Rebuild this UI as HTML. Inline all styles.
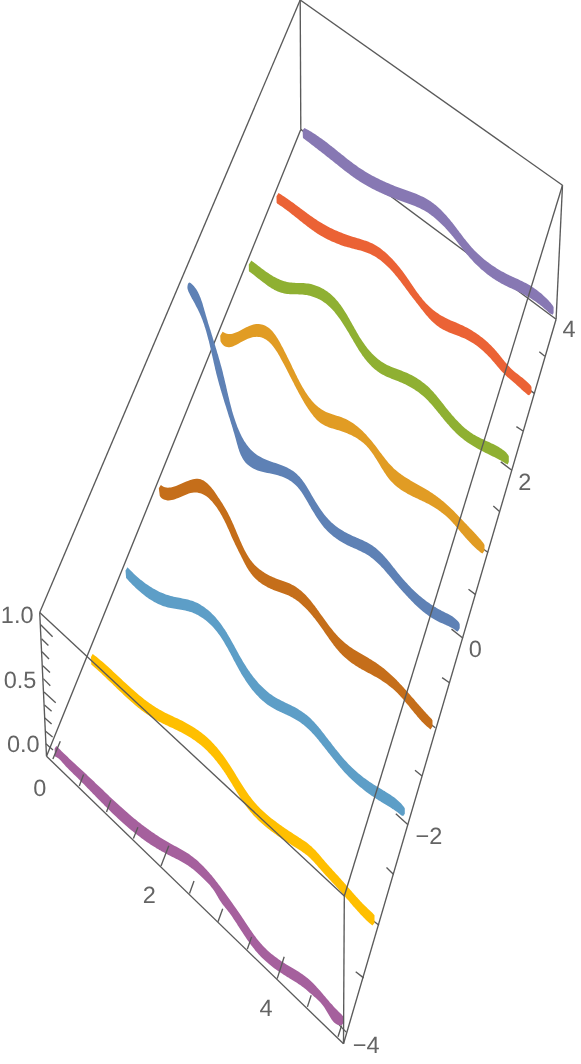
<!DOCTYPE html><html><head><meta charset="utf-8"><style>html,body{margin:0;padding:0;background:#fff}svg{display:block}</style></head><body><svg width="581" height="1064" viewBox="0 0 581 1064">
<rect width="581" height="1064" fill="#fff"/>
<g stroke-linecap="butt">
<line x1="46.5" y1="756.2" x2="300.8" y2="129.4" stroke="#5a5a5a" stroke-width="1.35"/>
<line x1="300.8" y1="129.4" x2="556.1" y2="319.2" stroke="#5a5a5a" stroke-width="1.35"/>
<line x1="300.8" y1="129.4" x2="300.2" y2="0.0" stroke="#5a5a5a" stroke-width="1.35"/>
<line x1="46.5" y1="756.2" x2="39.7" y2="612.4" stroke="#5a5a5a" stroke-width="1.35"/>
<line x1="556.1" y1="319.2" x2="562.5" y2="185.2" stroke="#5a5a5a" stroke-width="1.35"/>
<line x1="343.5" y1="1043.8" x2="556.1" y2="319.2" stroke="#5a5a5a" stroke-width="1.35"/>
<line x1="39.7" y1="612.4" x2="300.2" y2="0.0" stroke="#5a5a5a" stroke-width="1.35"/>
<line x1="300.2" y1="0.0" x2="562.5" y2="185.2" stroke="#5a5a5a" stroke-width="1.35"/>
<line x1="346.2" y1="1032.1" x2="334.1" y2="1019.6" stroke="#5a5a5a" stroke-width="1.35"/>
<line x1="363.6" y1="977.9" x2="355.7" y2="971.7" stroke="#5a5a5a" stroke-width="1.35"/>
<line x1="379.0" y1="925.2" x2="370.5" y2="918.7" stroke="#5a5a5a" stroke-width="1.35"/>
<line x1="393.6" y1="874.4" x2="386.5" y2="867.6" stroke="#5a5a5a" stroke-width="1.35"/>
<line x1="408.0" y1="824.7" x2="395.8" y2="813.7" stroke="#5a5a5a" stroke-width="1.35"/>
<line x1="422.0" y1="776.0" x2="415.0" y2="770.2" stroke="#5a5a5a" stroke-width="1.35"/>
<line x1="435.3" y1="727.8" x2="428.7" y2="722.8" stroke="#5a5a5a" stroke-width="1.35"/>
<line x1="449.5" y1="682.8" x2="442.1" y2="677.6" stroke="#5a5a5a" stroke-width="1.35"/>
<line x1="475.6" y1="594.6" x2="468.5" y2="589.2" stroke="#5a5a5a" stroke-width="1.35"/>
<line x1="463.0" y1="638.3" x2="451.5" y2="629.1" stroke="#5a5a5a" stroke-width="1.35"/>
<line x1="488.1" y1="552.5" x2="480.8" y2="547.3" stroke="#5a5a5a" stroke-width="1.35"/>
<line x1="499.5" y1="511.4" x2="493.3" y2="506.0" stroke="#5a5a5a" stroke-width="1.35"/>
<line x1="511.8" y1="470.2" x2="500.8" y2="461.9" stroke="#5a5a5a" stroke-width="1.35"/>
<line x1="523.0" y1="431.0" x2="516.4" y2="426.6" stroke="#5a5a5a" stroke-width="1.35"/>
<line x1="534.4" y1="393.4" x2="528.4" y2="389.1" stroke="#5a5a5a" stroke-width="1.35"/>
<line x1="544.8" y1="356.2" x2="539.3" y2="351.8" stroke="#5a5a5a" stroke-width="1.35"/>
<line x1="40.7" y1="624.8" x2="52.6" y2="636.7" stroke="#5a5a5a" stroke-width="1.35"/>
<line x1="41.5" y1="638.8" x2="48.4" y2="645.5" stroke="#5a5a5a" stroke-width="1.35"/>
<line x1="42.0" y1="651.7" x2="49.0" y2="659.0" stroke="#5a5a5a" stroke-width="1.35"/>
<line x1="42.8" y1="665.7" x2="50.0" y2="672.4" stroke="#5a5a5a" stroke-width="1.35"/>
<line x1="43.3" y1="678.6" x2="50.3" y2="685.7" stroke="#5a5a5a" stroke-width="1.35"/>
<line x1="44.0" y1="692.1" x2="55.7" y2="702.7" stroke="#5a5a5a" stroke-width="1.35"/>
<line x1="44.5" y1="705.0" x2="51.6" y2="711.2" stroke="#5a5a5a" stroke-width="1.35"/>
<line x1="44.8" y1="717.9" x2="51.6" y2="724.1" stroke="#5a5a5a" stroke-width="1.35"/>
<line x1="45.3" y1="730.9" x2="52.6" y2="737.1" stroke="#5a5a5a" stroke-width="1.35"/>
<line x1="45.9" y1="743.8" x2="53.0" y2="750.0" stroke="#5a5a5a" stroke-width="1.35"/>
</g>
<path d="M304.5,128.0 L305.8,128.7 L307.1,129.4 L308.4,130.1 L309.7,130.9 L311.0,131.6 L312.3,132.4 L313.5,133.2 L314.8,134.0 L316.0,134.8 L317.2,135.7 L318.5,136.5 L319.7,137.4 L320.9,138.2 L322.1,139.1 L323.3,140.0 L324.5,140.8 L325.7,141.7 L326.9,142.6 L328.0,143.5 L329.2,144.5 L330.4,145.4 L331.6,146.3 L332.7,147.2 L333.9,148.1 L335.0,149.1 L336.2,150.0 L337.4,151.0 L338.5,151.9 L339.7,152.8 L340.9,153.8 L342.0,154.7 L343.2,155.6 L344.4,156.6 L345.5,157.5 L346.7,158.4 L347.9,159.4 L349.1,160.3 L350.3,161.2 L351.5,162.1 L352.6,163.0 L353.9,163.9 L355.1,164.8 L356.3,165.6 L357.5,166.5 L358.7,167.4 L360.0,168.2 L361.2,169.0 L362.5,169.8 L363.7,170.6 L365.0,171.4 L366.3,172.2 L367.6,173.0 L368.9,173.7 L370.2,174.4 L371.5,175.2 L372.8,175.9 L374.1,176.6 L375.4,177.3 L376.8,178.0 L378.1,178.6 L379.4,179.3 L380.8,179.9 L382.1,180.6 L383.5,181.2 L384.9,181.8 L386.2,182.4 L387.6,183.0 L389.0,183.6 L390.4,184.2 L391.7,184.8 L393.1,185.3 L394.5,185.9 L395.9,186.4 L397.3,187.0 L398.7,187.5 L400.1,188.0 L401.5,188.5 L402.9,189.0 L404.3,189.5 L405.7,190.0 L407.1,190.5 L408.5,191.0 L409.9,191.5 L411.3,192.0 L412.6,192.5 L414.0,193.1 L415.4,193.6 L416.7,194.1 L418.1,194.7 L419.4,195.3 L420.8,195.9 L422.1,196.5 L423.4,197.1 L424.7,197.8 L426.0,198.5 L427.2,199.2 L428.5,200.0 L429.7,200.7 L430.9,201.6 L432.1,202.4 L433.3,203.3 L434.4,204.2 L435.6,205.1 L436.7,206.1 L437.8,207.0 L438.9,208.0 L440.0,209.1 L441.1,210.1 L442.2,211.2 L443.2,212.3 L444.3,213.4 L445.3,214.5 L446.3,215.6 L447.3,216.7 L448.3,217.9 L449.3,219.1 L450.3,220.2 L451.2,221.4 L452.2,222.6 L453.1,223.8 L454.1,225.0 L455.0,226.3 L456.0,227.5 L456.9,228.7 L457.8,229.9 L458.7,231.1 L459.6,232.4 L460.6,233.6 L461.5,234.8 L462.4,236.0 L463.3,237.2 L464.2,238.4 L465.2,239.6 L466.1,240.8 L467.1,242.0 L468.0,243.1 L469.0,244.3 L470.0,245.4 L470.9,246.6 L471.9,247.7 L473.0,248.8 L474.0,249.9 L475.0,250.9 L476.1,252.0 L477.1,253.0 L478.2,254.0 L479.3,255.0 L480.4,256.0 L481.5,257.0 L482.6,258.0 L483.7,258.9 L484.9,259.9 L486.0,260.8 L487.2,261.7 L488.4,262.6 L489.6,263.5 L490.7,264.3 L491.9,265.2 L493.2,266.0 L494.4,266.8 L495.6,267.6 L496.8,268.4 L498.1,269.2 L499.4,269.9 L500.6,270.7 L501.9,271.4 L503.2,272.1 L504.5,272.8 L505.8,273.5 L507.1,274.2 L508.4,274.8 L509.7,275.5 L511.0,276.1 L512.4,276.7 L513.7,277.3 L515.1,277.9 L516.4,278.5 L517.7,279.1 L519.1,279.8 L520.4,280.4 L521.8,281.0 L523.1,281.7 L524.5,282.4 L525.8,283.1 L527.1,283.8 L528.4,284.6 L529.8,285.3 L531.1,286.1 L532.3,287.0 L533.6,287.8 L534.9,288.7 L536.1,289.6 L537.4,290.5 L538.6,291.4 L539.8,292.4 L541.0,293.3 L542.1,294.3 L543.3,295.4 L544.4,296.4 L545.5,297.4 L546.6,298.5 L547.6,299.6 L548.6,300.6 L549.6,301.7 L550.6,302.8 L551.5,304.0 L552.4,305.1 L553.6,306.9 L553.6,313.0 L552.6,314.8 L551.4,314.1 L549.9,313.6 L549.0,312.7 L548.0,311.7 L546.9,310.8 L545.9,309.8 L544.8,308.9 L543.7,308.0 L542.6,307.1 L541.5,306.1 L540.3,305.2 L539.2,304.3 L538.0,303.4 L536.8,302.5 L535.5,301.6 L534.3,300.8 L533.0,299.9 L531.7,299.1 L530.5,298.3 L529.2,297.5 L527.9,296.7 L526.5,295.9 L525.2,295.2 L523.9,294.5 L522.5,293.8 L521.2,293.1 L519.9,292.4 L518.5,291.7 L517.2,291.1 L515.8,290.5 L514.4,289.8 L513.1,289.2 L511.7,288.6 L510.4,288.0 L509.1,287.4 L507.7,286.8 L506.4,286.1 L505.1,285.5 L503.8,284.8 L502.4,284.1 L501.1,283.4 L499.9,282.6 L498.6,281.9 L497.3,281.1 L496.1,280.4 L494.8,279.6 L493.6,278.7 L492.3,277.9 L491.1,277.1 L489.9,276.2 L488.7,275.3 L487.5,274.4 L486.3,273.5 L485.2,272.6 L484.0,271.6 L482.9,270.6 L481.7,269.7 L480.6,268.7 L479.5,267.6 L478.4,266.6 L477.3,265.6 L476.2,264.5 L475.1,263.4 L474.1,262.4 L473.0,261.3 L472.0,260.1 L471.0,259.0 L470.0,257.9 L469.0,256.7 L468.0,255.6 L467.0,254.4 L466.0,253.2 L465.1,252.1 L464.1,250.9 L463.2,249.7 L462.2,248.5 L461.3,247.3 L460.4,246.1 L459.4,244.9 L458.5,243.7 L457.6,242.5 L456.6,241.3 L455.7,240.1 L454.8,239.0 L453.8,237.8 L452.9,236.6 L451.9,235.5 L451.0,234.3 L450.0,233.2 L449.0,232.0 L448.0,230.9 L447.0,229.8 L446.0,228.7 L445.0,227.6 L444.0,226.5 L442.9,225.5 L441.9,224.4 L440.8,223.4 L439.8,222.4 L438.7,221.4 L437.6,220.4 L436.5,219.4 L435.4,218.4 L434.2,217.5 L433.1,216.6 L431.9,215.7 L430.7,214.8 L429.6,214.0 L428.4,213.1 L427.2,212.3 L425.9,211.6 L424.7,210.8 L423.4,210.1 L422.1,209.4 L420.8,208.7 L419.5,208.1 L418.2,207.5 L416.9,206.9 L415.5,206.3 L414.2,205.8 L412.8,205.2 L411.4,204.7 L410.1,204.2 L408.7,203.7 L407.3,203.2 L405.9,202.7 L404.5,202.2 L403.1,201.7 L401.7,201.2 L400.3,200.7 L398.9,200.2 L397.5,199.7 L396.1,199.2 L394.7,198.6 L393.3,198.1 L391.9,197.6 L390.5,197.0 L389.1,196.4 L387.7,195.9 L386.3,195.3 L384.9,194.7 L383.5,194.1 L382.2,193.5 L380.8,192.8 L379.4,192.2 L378.1,191.6 L376.7,190.9 L375.4,190.2 L374.0,189.5 L372.7,188.9 L371.4,188.2 L370.1,187.5 L368.7,186.7 L367.4,186.0 L366.1,185.3 L364.8,184.5 L363.5,183.7 L362.2,183.0 L361.0,182.2 L359.7,181.4 L358.4,180.5 L357.2,179.7 L355.9,178.9 L354.7,178.0 L353.4,177.2 L352.2,176.3 L351.0,175.4 L349.8,174.5 L348.6,173.6 L347.4,172.7 L346.2,171.8 L345.0,170.9 L343.8,170.0 L342.6,169.0 L341.4,168.1 L340.3,167.2 L339.1,166.2 L337.9,165.3 L336.8,164.3 L335.6,163.4 L334.4,162.5 L333.2,161.5 L332.1,160.6 L330.9,159.7 L329.7,158.7 L328.6,157.8 L327.4,156.9 L326.2,156.0 L325.0,155.0 L323.9,154.1 L322.7,153.2 L321.5,152.3 L320.3,151.3 L319.1,150.4 L317.9,149.5 L316.8,148.6 L315.6,147.7 L314.4,146.7 L313.2,145.8 L312.0,144.9 L310.8,144.0 L309.6,143.0 L308.4,142.1 L307.2,141.2 L305.9,140.2 L304.7,139.3 L303.5,138.4 L302.9,137.5 L302.6,130.3Z" fill="#8778b3"/>
<path d="M278.5,193.0 L279.8,193.8 L281.1,194.6 L282.4,195.4 L283.7,196.3 L284.9,197.1 L286.2,197.9 L287.4,198.8 L288.7,199.7 L289.9,200.5 L291.1,201.4 L292.3,202.3 L293.5,203.1 L294.7,204.0 L295.9,204.9 L297.1,205.8 L298.3,206.7 L299.5,207.6 L300.6,208.4 L301.8,209.3 L303.0,210.2 L304.2,211.1 L305.4,212.0 L306.5,212.8 L307.7,213.7 L308.9,214.6 L310.1,215.4 L311.3,216.3 L312.5,217.1 L313.7,218.0 L314.9,218.8 L316.2,219.6 L317.4,220.4 L318.6,221.2 L319.9,222.0 L321.2,222.8 L322.5,223.6 L323.7,224.3 L325.1,225.1 L326.4,225.8 L327.7,226.5 L329.1,227.2 L330.4,227.9 L331.8,228.6 L333.2,229.2 L334.6,229.9 L336.0,230.5 L337.4,231.1 L338.8,231.7 L340.2,232.3 L341.7,232.8 L343.1,233.4 L344.6,233.9 L346.0,234.5 L347.4,235.0 L348.9,235.5 L350.3,236.0 L351.8,236.4 L353.2,236.9 L354.6,237.3 L356.1,237.8 L357.5,238.2 L358.9,238.6 L360.3,239.0 L361.7,239.5 L363.1,239.9 L364.5,240.4 L365.9,240.8 L367.2,241.3 L368.6,241.8 L369.9,242.4 L371.2,243.0 L372.6,243.6 L373.8,244.3 L375.1,245.0 L376.4,245.7 L377.6,246.5 L378.8,247.3 L380.0,248.1 L381.2,249.0 L382.4,249.9 L383.5,250.9 L384.7,251.8 L385.8,252.8 L386.9,253.8 L388.0,254.8 L389.1,255.9 L390.2,256.9 L391.2,258.0 L392.3,259.1 L393.3,260.2 L394.3,261.3 L395.3,262.4 L396.3,263.5 L397.3,264.7 L398.3,265.9 L399.2,267.0 L400.2,268.2 L401.1,269.4 L402.0,270.6 L402.9,271.8 L403.8,273.0 L404.7,274.3 L405.6,275.5 L406.5,276.7 L407.3,278.0 L408.2,279.2 L409.1,280.5 L409.9,281.7 L410.7,283.0 L411.6,284.2 L412.4,285.5 L413.3,286.7 L414.1,288.0 L415.0,289.2 L415.8,290.4 L416.7,291.7 L417.6,292.9 L418.5,294.1 L419.3,295.3 L420.2,296.5 L421.2,297.6 L422.1,298.8 L423.0,299.9 L424.0,301.0 L424.9,302.1 L425.9,303.2 L427.0,304.3 L428.0,305.3 L429.0,306.3 L430.1,307.3 L431.2,308.3 L432.3,309.2 L433.5,310.2 L434.6,311.1 L435.8,311.9 L437.0,312.8 L438.2,313.6 L439.4,314.4 L440.6,315.2 L441.9,315.9 L443.1,316.6 L444.4,317.3 L445.7,318.0 L446.9,318.6 L448.2,319.2 L449.5,319.8 L450.8,320.4 L452.2,321.0 L453.5,321.5 L454.8,322.1 L456.1,322.6 L457.5,323.2 L458.8,323.8 L460.1,324.4 L461.5,325.0 L462.8,325.6 L464.1,326.2 L465.4,326.9 L466.8,327.5 L468.1,328.3 L469.4,329.0 L470.7,329.8 L472.0,330.5 L473.3,331.4 L474.6,332.2 L475.9,333.1 L477.2,333.9 L478.4,334.8 L479.7,335.7 L480.9,336.7 L482.1,337.6 L483.3,338.6 L484.5,339.6 L485.7,340.6 L486.8,341.6 L488.0,342.6 L489.1,343.7 L490.2,344.7 L491.3,345.8 L492.4,346.9 L493.4,348.0 L494.4,349.1 L495.4,350.2 L496.4,351.3 L497.3,352.4 L498.3,353.5 L499.2,354.7 L500.1,355.8 L501.0,356.9 L501.9,358.0 L502.8,359.2 L503.7,360.3 L504.6,361.4 L505.5,362.5 L506.5,363.6 L507.4,364.7 L508.4,365.8 L509.4,366.8 L510.5,367.9 L511.5,368.9 L512.6,369.9 L513.7,370.9 L514.9,371.9 L516.1,372.9 L517.3,373.8 L518.5,374.8 L519.7,375.8 L520.9,376.7 L522.1,377.6 L523.3,378.6 L524.4,379.5 L525.6,380.5 L526.7,381.5 L527.8,382.5 L528.8,383.4 L529.8,384.5 L530.7,385.5 L531.5,386.9 L531.5,392.4 L529.2,395.2 L527.9,395.0 L526.9,394.1 L525.9,393.2 L524.9,392.3 L523.8,391.4 L522.7,390.4 L521.5,389.4 L520.4,388.3 L519.2,387.3 L518.1,386.2 L516.9,385.2 L515.7,384.1 L514.5,383.1 L513.3,382.1 L512.2,381.1 L511.0,380.1 L509.8,379.1 L508.7,378.1 L507.6,377.2 L506.6,376.2 L505.6,375.2 L504.5,374.2 L503.6,373.3 L502.6,372.2 L501.6,371.2 L500.7,370.2 L499.8,369.2 L498.8,368.1 L497.9,367.0 L497.0,365.9 L496.1,364.8 L495.1,363.7 L494.2,362.6 L493.2,361.5 L492.3,360.4 L491.3,359.3 L490.3,358.1 L489.2,357.0 L488.2,355.9 L487.1,354.8 L486.0,353.7 L484.9,352.7 L483.7,351.6 L482.6,350.6 L481.4,349.5 L480.2,348.5 L479.0,347.5 L477.8,346.6 L476.5,345.6 L475.3,344.7 L474.0,343.8 L472.7,343.0 L471.4,342.2 L470.1,341.4 L468.8,340.7 L467.5,340.0 L466.1,339.3 L464.8,338.6 L463.4,338.0 L462.0,337.4 L460.7,336.9 L459.3,336.3 L457.9,335.8 L456.6,335.3 L455.2,334.8 L453.8,334.3 L452.5,333.8 L451.2,333.3 L449.8,332.7 L448.5,332.2 L447.2,331.6 L445.9,331.0 L444.6,330.3 L443.3,329.7 L442.0,329.0 L440.8,328.2 L439.5,327.4 L438.3,326.6 L437.1,325.7 L435.9,324.8 L434.8,323.8 L433.6,322.8 L432.5,321.8 L431.4,320.7 L430.3,319.6 L429.2,318.5 L428.2,317.3 L427.2,316.1 L426.1,314.9 L425.2,313.7 L424.2,312.5 L423.2,311.3 L422.3,310.1 L421.3,308.9 L420.4,307.7 L419.5,306.5 L418.5,305.3 L417.6,304.1 L416.7,303.0 L415.8,301.8 L414.9,300.6 L414.0,299.5 L413.1,298.3 L412.2,297.2 L411.4,296.0 L410.5,294.9 L409.6,293.7 L408.7,292.5 L407.9,291.3 L407.0,290.2 L406.1,289.0 L405.2,287.8 L404.4,286.6 L403.5,285.4 L402.6,284.2 L401.7,283.0 L400.8,281.8 L399.9,280.6 L398.9,279.4 L398.0,278.2 L397.1,277.0 L396.1,275.9 L395.1,274.7 L394.2,273.6 L393.2,272.5 L392.2,271.3 L391.2,270.2 L390.1,269.1 L389.1,268.1 L388.0,267.0 L387.0,266.0 L385.9,264.9 L384.8,263.9 L383.7,262.9 L382.5,262.0 L381.4,261.0 L380.2,260.1 L379.0,259.3 L377.8,258.4 L376.6,257.6 L375.4,256.8 L374.1,256.1 L372.9,255.4 L371.6,254.7 L370.3,254.0 L369.0,253.5 L367.6,252.9 L366.3,252.4 L364.9,251.9 L363.5,251.5 L362.1,251.1 L360.7,250.6 L359.3,250.3 L357.9,249.9 L356.5,249.5 L355.0,249.2 L353.6,248.8 L352.1,248.4 L350.7,248.0 L349.2,247.6 L347.7,247.2 L346.3,246.8 L344.8,246.4 L343.4,245.9 L341.9,245.4 L340.4,244.9 L339.0,244.3 L337.5,243.8 L336.1,243.2 L334.7,242.6 L333.3,242.0 L331.8,241.4 L330.4,240.8 L329.0,240.1 L327.7,239.4 L326.3,238.7 L324.9,238.0 L323.6,237.3 L322.3,236.5 L320.9,235.7 L319.6,235.0 L318.4,234.2 L317.1,233.4 L315.8,232.5 L314.6,231.7 L313.4,230.8 L312.1,230.0 L310.9,229.1 L309.7,228.2 L308.5,227.3 L307.3,226.4 L306.2,225.5 L305.0,224.6 L303.8,223.7 L302.6,222.8 L301.5,221.8 L300.3,220.9 L299.2,220.0 L298.0,219.0 L296.8,218.1 L295.7,217.2 L294.5,216.2 L293.3,215.3 L292.1,214.4 L291.0,213.4 L289.8,212.5 L288.6,211.6 L287.4,210.7 L286.2,209.8 L285.0,208.9 L283.7,208.0 L282.5,207.1 L281.3,206.2 L280.0,205.4 L278.7,204.5 L277.4,203.7 L276.6,202.8 L276.5,196.2Z" fill="#eb6235"/>
<path d="M251.4,260.6 L252.5,261.4 L253.7,262.3 L254.9,263.2 L256.0,264.1 L257.2,265.0 L258.4,265.9 L259.6,266.8 L260.8,267.8 L262.0,268.7 L263.2,269.6 L264.5,270.5 L265.7,271.4 L266.9,272.3 L268.2,273.1 L269.5,274.0 L270.7,274.8 L272.0,275.6 L273.3,276.4 L274.6,277.1 L276.0,277.8 L277.3,278.5 L278.7,279.1 L280.0,279.7 L281.4,280.3 L282.8,280.8 L284.2,281.2 L285.6,281.6 L287.0,282.0 L288.5,282.2 L290.0,282.5 L291.4,282.6 L292.9,282.8 L294.4,282.8 L295.9,282.9 L297.4,282.9 L299.0,283.0 L300.5,283.0 L302.0,283.1 L303.5,283.1 L305.0,283.2 L306.6,283.4 L308.1,283.6 L309.6,283.8 L311.0,284.1 L312.5,284.5 L314.0,284.9 L315.4,285.4 L316.8,285.9 L318.3,286.4 L319.6,287.1 L321.0,287.7 L322.3,288.4 L323.6,289.1 L324.9,289.9 L326.1,290.7 L327.4,291.6 L328.5,292.4 L329.7,293.3 L330.8,294.3 L331.9,295.2 L332.9,296.2 L334.0,297.3 L335.0,298.3 L336.0,299.4 L336.9,300.5 L337.9,301.6 L338.8,302.7 L339.7,303.9 L340.6,305.1 L341.4,306.3 L342.3,307.5 L343.1,308.7 L343.9,310.0 L344.7,311.2 L345.5,312.5 L346.3,313.8 L347.1,315.1 L347.9,316.4 L348.6,317.7 L349.4,319.0 L350.1,320.4 L350.9,321.7 L351.6,323.0 L352.4,324.4 L353.1,325.7 L353.9,327.0 L354.6,328.4 L355.4,329.7 L356.1,331.1 L356.9,332.4 L357.7,333.7 L358.4,335.1 L359.2,336.4 L360.0,337.7 L360.9,339.0 L361.7,340.3 L362.5,341.5 L363.4,342.8 L364.3,344.1 L365.1,345.3 L366.1,346.5 L367.0,347.7 L367.9,348.9 L368.9,350.1 L369.9,351.2 L370.9,352.3 L371.9,353.4 L373.0,354.5 L374.0,355.6 L375.1,356.6 L376.2,357.6 L377.3,358.5 L378.5,359.4 L379.7,360.3 L380.8,361.2 L382.0,362.0 L383.3,362.8 L384.5,363.5 L385.8,364.2 L387.0,364.9 L388.3,365.5 L389.6,366.1 L391.0,366.7 L392.3,367.2 L393.6,367.7 L395.0,368.3 L396.4,368.8 L397.7,369.3 L399.1,369.8 L400.5,370.3 L401.9,370.8 L403.2,371.4 L404.6,371.9 L406.0,372.5 L407.4,373.1 L408.7,373.7 L410.1,374.4 L411.5,375.1 L412.8,375.8 L414.1,376.6 L415.4,377.3 L416.7,378.1 L418.0,378.9 L419.3,379.7 L420.5,380.6 L421.7,381.5 L422.9,382.4 L424.1,383.3 L425.3,384.2 L426.4,385.2 L427.5,386.1 L428.5,387.1 L429.6,388.1 L430.6,389.2 L431.6,390.2 L432.6,391.3 L433.6,392.3 L434.5,393.4 L435.5,394.5 L436.4,395.6 L437.3,396.7 L438.3,397.9 L439.2,399.0 L440.1,400.2 L441.0,401.3 L441.9,402.5 L442.8,403.6 L443.8,404.8 L444.7,406.0 L445.6,407.2 L446.6,408.4 L447.5,409.5 L448.5,410.7 L449.5,411.9 L450.5,413.1 L451.4,414.3 L452.4,415.4 L453.5,416.6 L454.5,417.7 L455.5,418.9 L456.5,420.0 L457.6,421.1 L458.7,422.2 L459.7,423.3 L460.8,424.3 L461.9,425.4 L463.0,426.4 L464.1,427.4 L465.2,428.4 L466.4,429.3 L467.5,430.2 L468.7,431.1 L469.9,432.0 L471.0,432.8 L472.2,433.6 L473.4,434.4 L474.7,435.1 L475.9,435.8 L477.1,436.5 L478.4,437.1 L479.7,437.8 L481.0,438.4 L482.3,439.0 L483.6,439.6 L484.9,440.2 L486.2,440.9 L487.6,441.5 L489.0,442.1 L490.3,442.8 L491.7,443.4 L493.2,444.1 L494.6,444.8 L496.0,445.6 L497.4,446.3 L498.8,447.1 L500.1,448.0 L501.5,448.8 L502.7,449.7 L503.9,450.6 L505.1,451.6 L506.2,452.6 L507.1,453.7 L508.0,454.8 L508.8,456.2 L508.8,462.1 L507.6,464.5 L506.3,463.8 L505.4,463.6 L504.4,462.8 L503.4,462.1 L502.2,461.4 L501.0,460.6 L499.7,459.9 L498.4,459.2 L497.0,458.5 L495.6,457.8 L494.2,457.1 L492.8,456.4 L491.3,455.7 L489.9,455.0 L488.5,454.3 L487.1,453.6 L485.7,452.9 L484.4,452.2 L483.0,451.5 L481.7,450.8 L480.4,450.1 L479.1,449.4 L477.8,448.7 L476.5,448.0 L475.3,447.3 L474.0,446.6 L472.8,445.8 L471.6,445.1 L470.4,444.3 L469.2,443.5 L468.0,442.7 L466.8,441.9 L465.6,441.0 L464.4,440.2 L463.3,439.3 L462.1,438.3 L461.0,437.4 L459.9,436.4 L458.7,435.4 L457.6,434.4 L456.5,433.4 L455.5,432.4 L454.4,431.3 L453.3,430.3 L452.3,429.2 L451.2,428.0 L450.2,426.9 L449.2,425.8 L448.2,424.6 L447.1,423.5 L446.2,422.3 L445.2,421.2 L444.2,420.0 L443.2,418.8 L442.3,417.6 L441.3,416.5 L440.4,415.3 L439.5,414.1 L438.5,413.0 L437.6,411.8 L436.7,410.7 L435.8,409.6 L434.8,408.4 L433.9,407.3 L433.0,406.2 L432.0,405.1 L431.1,404.0 L430.1,402.9 L429.1,401.9 L428.2,400.8 L427.1,399.8 L426.1,398.8 L425.1,397.8 L424.0,396.8 L422.9,395.8 L421.8,394.9 L420.6,393.9 L419.4,393.0 L418.2,392.1 L417.0,391.2 L415.7,390.4 L414.5,389.5 L413.2,388.7 L411.9,387.9 L410.6,387.2 L409.2,386.4 L407.9,385.7 L406.5,385.0 L405.2,384.3 L403.8,383.7 L402.4,383.1 L401.1,382.5 L399.7,381.9 L398.3,381.3 L396.9,380.8 L395.5,380.3 L394.2,379.7 L392.8,379.2 L391.4,378.7 L390.1,378.1 L388.7,377.6 L387.4,377.0 L386.1,376.4 L384.8,375.8 L383.5,375.1 L382.2,374.4 L381.0,373.7 L379.7,372.9 L378.5,372.1 L377.3,371.2 L376.2,370.3 L375.0,369.4 L373.9,368.4 L372.8,367.4 L371.7,366.4 L370.6,365.3 L369.6,364.2 L368.5,363.1 L367.5,361.9 L366.5,360.8 L365.5,359.6 L364.6,358.4 L363.7,357.1 L362.7,355.9 L361.8,354.6 L361.0,353.3 L360.1,352.0 L359.2,350.7 L358.4,349.4 L357.6,348.1 L356.8,346.8 L356.0,345.5 L355.2,344.1 L354.4,342.8 L353.6,341.5 L352.9,340.1 L352.1,338.8 L351.3,337.5 L350.6,336.2 L349.8,334.9 L349.1,333.6 L348.3,332.3 L347.5,331.0 L346.7,329.7 L346.0,328.4 L345.2,327.2 L344.4,325.9 L343.6,324.7 L342.8,323.4 L342.0,322.2 L341.2,321.0 L340.4,319.8 L339.5,318.6 L338.7,317.4 L337.8,316.2 L336.9,315.0 L336.0,313.9 L335.1,312.7 L334.2,311.6 L333.2,310.5 L332.3,309.4 L331.3,308.4 L330.3,307.4 L329.2,306.4 L328.1,305.4 L327.0,304.5 L325.9,303.6 L324.7,302.7 L323.5,301.9 L322.3,301.1 L321.0,300.3 L319.7,299.6 L318.4,298.9 L317.0,298.3 L315.6,297.7 L314.2,297.2 L312.8,296.7 L311.3,296.2 L309.9,295.8 L308.4,295.4 L306.9,295.1 L305.4,294.9 L303.8,294.7 L302.3,294.5 L300.8,294.4 L299.2,294.4 L297.7,294.3 L296.1,294.3 L294.6,294.3 L293.1,294.3 L291.6,294.2 L290.0,294.2 L288.5,294.1 L287.1,293.9 L285.6,293.7 L284.1,293.5 L282.7,293.1 L281.3,292.7 L279.9,292.3 L278.5,291.7 L277.1,291.2 L275.8,290.5 L274.4,289.9 L273.1,289.1 L271.8,288.4 L270.5,287.6 L269.2,286.7 L268.0,285.9 L266.7,285.0 L265.5,284.1 L264.2,283.1 L263.0,282.2 L261.8,281.2 L260.5,280.3 L259.3,279.3 L258.1,278.4 L256.9,277.4 L255.7,276.5 L254.5,275.5 L253.3,274.6 L252.2,273.7 L251.0,272.8 L249.8,272.0 L248.9,271.2 L248.8,264.6Z" fill="#8fb032"/>
<path d="M222.6,331.8 L224.0,332.6 L225.5,333.3 L226.9,333.7 L228.3,333.9 L229.7,334.0 L231.1,333.9 L232.5,333.7 L233.9,333.3 L235.2,332.8 L236.6,332.3 L238.0,331.7 L239.4,331.0 L240.8,330.3 L242.1,329.5 L243.5,328.8 L244.9,328.0 L246.3,327.3 L247.7,326.7 L249.1,326.0 L250.6,325.5 L252.0,325.0 L253.4,324.6 L254.8,324.3 L256.2,324.1 L257.6,324.0 L258.9,324.0 L260.3,324.2 L261.6,324.4 L262.9,324.8 L264.2,325.2 L265.4,325.8 L266.6,326.5 L267.8,327.2 L269.0,328.1 L270.1,329.0 L271.1,330.0 L272.2,331.1 L273.2,332.3 L274.1,333.5 L275.1,334.8 L276.0,336.1 L276.9,337.4 L277.8,338.8 L278.6,340.2 L279.4,341.6 L280.2,343.0 L281.0,344.4 L281.7,345.9 L282.5,347.3 L283.2,348.6 L283.9,350.0 L284.6,351.4 L285.3,352.7 L285.9,354.0 L286.6,355.3 L287.2,356.7 L287.9,357.9 L288.5,359.2 L289.1,360.5 L289.8,361.8 L290.4,363.1 L291.0,364.3 L291.6,365.6 L292.2,366.9 L292.8,368.2 L293.5,369.5 L294.1,370.7 L294.7,372.0 L295.4,373.4 L296.0,374.7 L296.7,376.0 L297.3,377.4 L298.0,378.7 L298.7,380.1 L299.4,381.4 L300.1,382.8 L300.9,384.2 L301.6,385.5 L302.4,386.9 L303.2,388.2 L304.0,389.6 L304.8,390.9 L305.6,392.3 L306.5,393.6 L307.3,394.8 L308.2,396.1 L309.2,397.4 L310.1,398.6 L311.1,399.8 L312.0,401.0 L313.0,402.1 L314.1,403.2 L315.1,404.3 L316.2,405.3 L317.4,406.3 L318.5,407.2 L319.7,408.1 L320.9,409.0 L322.1,409.8 L323.4,410.6 L324.7,411.3 L326.0,411.9 L327.4,412.5 L328.8,413.1 L330.2,413.6 L331.6,414.1 L333.0,414.5 L334.5,415.0 L335.9,415.4 L337.4,415.9 L338.8,416.3 L340.2,416.8 L341.7,417.3 L343.1,417.9 L344.5,418.5 L345.8,419.1 L347.2,419.8 L348.5,420.5 L349.8,421.2 L351.0,422.0 L352.3,422.8 L353.5,423.6 L354.8,424.5 L356.0,425.4 L357.1,426.3 L358.3,427.3 L359.4,428.3 L360.6,429.3 L361.7,430.3 L362.8,431.3 L363.9,432.4 L364.9,433.5 L366.0,434.6 L367.0,435.7 L368.0,436.9 L369.0,438.0 L370.0,439.2 L371.0,440.3 L372.0,441.5 L373.0,442.7 L373.9,443.9 L374.8,445.1 L375.8,446.3 L376.7,447.5 L377.6,448.7 L378.5,449.9 L379.4,451.2 L380.3,452.4 L381.2,453.6 L382.1,454.8 L383.0,455.9 L383.9,457.1 L384.8,458.3 L385.7,459.5 L386.6,460.6 L387.6,461.7 L388.5,462.9 L389.5,464.0 L390.5,465.0 L391.5,466.1 L392.5,467.1 L393.5,468.2 L394.6,469.2 L395.7,470.1 L396.8,471.1 L398.0,472.0 L399.2,472.9 L400.4,473.8 L401.6,474.7 L402.8,475.6 L404.1,476.4 L405.3,477.2 L406.6,478.0 L407.9,478.8 L409.2,479.6 L410.5,480.4 L411.8,481.2 L413.1,481.9 L414.5,482.7 L415.8,483.5 L417.1,484.2 L418.5,485.0 L419.8,485.7 L421.1,486.5 L422.5,487.2 L423.8,488.0 L425.1,488.8 L426.4,489.6 L427.7,490.3 L429.0,491.1 L430.3,491.9 L431.6,492.8 L432.8,493.6 L434.0,494.4 L435.3,495.3 L436.5,496.2 L437.7,497.0 L438.8,497.9 L440.0,498.8 L441.1,499.8 L442.3,500.7 L443.4,501.6 L444.5,502.6 L445.6,503.6 L446.7,504.5 L447.8,505.5 L448.9,506.5 L450.0,507.5 L451.0,508.6 L452.1,509.6 L453.2,510.6 L454.2,511.6 L455.3,512.7 L456.3,513.7 L457.3,514.8 L458.4,515.9 L459.4,516.9 L460.4,518.0 L461.5,519.1 L462.5,520.2 L463.5,521.3 L464.6,522.4 L465.6,523.5 L466.7,524.6 L467.7,525.7 L468.8,526.8 L469.8,527.9 L470.9,529.0 L471.9,530.1 L473.0,531.2 L474.0,532.3 L475.1,533.4 L476.1,534.5 L477.1,535.7 L478.1,536.8 L479.1,537.9 L480.1,539.0 L481.0,540.1 L481.9,541.2 L482.8,542.3 L483.7,543.4 L484.5,544.9 L484.5,550.4 L482.5,553.5 L481.0,552.7 L480.0,551.9 L479.0,551.1 L478.0,550.2 L477.0,549.4 L476.0,548.4 L474.9,547.5 L473.9,546.5 L472.8,545.5 L471.8,544.4 L470.7,543.3 L469.7,542.2 L468.6,541.1 L467.6,540.0 L466.5,538.8 L465.5,537.7 L464.5,536.5 L463.4,535.3 L462.4,534.1 L461.4,532.9 L460.4,531.7 L459.4,530.5 L458.4,529.3 L457.4,528.1 L456.4,526.9 L455.4,525.7 L454.4,524.6 L453.3,523.4 L452.3,522.3 L451.3,521.2 L450.2,520.1 L449.2,519.1 L448.1,518.1 L447.1,517.1 L446.0,516.1 L444.9,515.1 L443.8,514.2 L442.6,513.3 L441.5,512.4 L440.4,511.5 L439.2,510.7 L438.0,509.8 L436.8,509.0 L435.6,508.2 L434.4,507.4 L433.2,506.7 L431.9,506.0 L430.6,505.2 L429.4,504.5 L428.1,503.8 L426.7,503.2 L425.4,502.5 L424.1,501.8 L422.7,501.2 L421.4,500.6 L420.0,499.9 L418.6,499.3 L417.3,498.6 L415.9,498.0 L414.5,497.3 L413.1,496.7 L411.8,496.0 L410.4,495.3 L409.0,494.6 L407.7,493.9 L406.4,493.1 L405.1,492.3 L403.7,491.5 L402.5,490.7 L401.2,489.9 L399.9,489.0 L398.7,488.1 L397.5,487.2 L396.3,486.2 L395.1,485.2 L394.0,484.2 L392.9,483.1 L391.8,482.0 L390.8,480.9 L389.7,479.7 L388.7,478.5 L387.8,477.2 L386.8,475.9 L385.9,474.6 L385.0,473.3 L384.1,472.0 L383.3,470.6 L382.4,469.3 L381.6,467.9 L380.7,466.5 L379.9,465.1 L379.1,463.7 L378.2,462.3 L377.4,460.9 L376.5,459.6 L375.7,458.2 L374.8,456.9 L374.0,455.5 L373.1,454.2 L372.2,452.9 L371.3,451.7 L370.3,450.4 L369.4,449.2 L368.4,448.1 L367.4,446.9 L366.4,445.8 L365.3,444.8 L364.2,443.8 L363.2,442.8 L362.0,441.9 L360.9,441.0 L359.7,440.2 L358.6,439.4 L357.4,438.6 L356.1,437.8 L354.9,437.1 L353.6,436.4 L352.4,435.8 L351.1,435.1 L349.7,434.5 L348.4,433.9 L347.1,433.3 L345.7,432.8 L344.3,432.2 L342.9,431.7 L341.5,431.2 L340.1,430.8 L338.7,430.3 L337.2,429.9 L335.8,429.5 L334.3,429.0 L332.8,428.6 L331.4,428.2 L329.9,427.7 L328.5,427.2 L327.1,426.6 L325.7,426.0 L324.3,425.3 L323.0,424.6 L321.7,423.8 L320.5,422.9 L319.3,422.0 L318.1,421.0 L316.9,419.9 L315.8,418.8 L314.7,417.6 L313.7,416.4 L312.7,415.1 L311.7,413.8 L310.7,412.5 L309.7,411.1 L308.8,409.8 L307.9,408.4 L307.0,407.0 L306.1,405.7 L305.2,404.3 L304.4,402.9 L303.6,401.5 L302.7,400.1 L301.9,398.6 L301.1,397.2 L300.4,395.8 L299.6,394.4 L298.8,393.0 L298.1,391.7 L297.4,390.3 L296.6,388.9 L295.9,387.6 L295.2,386.2 L294.5,384.9 L293.9,383.6 L293.2,382.3 L292.5,381.0 L291.9,379.7 L291.2,378.4 L290.6,377.2 L289.9,376.0 L289.3,374.7 L288.7,373.5 L288.0,372.3 L287.4,371.0 L286.8,369.8 L286.1,368.5 L285.5,367.3 L284.8,366.1 L284.2,364.8 L283.5,363.5 L282.8,362.3 L282.1,361.0 L281.4,359.7 L280.7,358.4 L280.0,357.1 L279.3,355.8 L278.5,354.5 L277.7,353.1 L276.9,351.8 L276.0,350.5 L275.2,349.2 L274.3,347.9 L273.4,346.7 L272.4,345.5 L271.4,344.3 L270.4,343.2 L269.4,342.2 L268.3,341.3 L267.2,340.4 L266.0,339.6 L264.8,338.9 L263.6,338.2 L262.3,337.7 L261.0,337.3 L259.6,337.0 L258.2,336.9 L256.8,336.8 L255.3,336.9 L253.9,337.0 L252.4,337.3 L250.9,337.7 L249.4,338.2 L247.8,338.8 L246.3,339.4 L244.8,340.2 L243.3,340.9 L241.8,341.7 L240.3,342.6 L238.8,343.4 L237.4,344.2 L236.0,344.9 L234.7,345.6 L233.3,346.2 L232.0,346.7 L230.7,347.0 L229.5,347.2 L228.3,347.3 L227.1,347.1 L225.9,346.8 L224.7,346.3 L223.6,345.5 L222.6,344.4 L221.5,343.0 L220.5,341.3 L220.2,335.8Z" fill="#e19c24"/>
<path d="M189.7,282.5 L190.9,283.3 L192.0,284.3 L193.0,285.3 L194.0,286.3 L194.9,287.5 L195.7,288.6 L196.6,289.8 L197.3,291.1 L198.0,292.3 L198.7,293.7 L199.3,295.0 L199.9,296.4 L200.5,297.8 L201.0,299.2 L201.5,300.7 L202.0,302.1 L202.5,303.6 L202.9,305.1 L203.3,306.6 L203.8,308.1 L204.2,309.6 L204.6,311.1 L205.1,312.6 L205.5,314.1 L205.9,315.6 L206.4,317.0 L206.8,318.5 L207.3,320.0 L207.7,321.4 L208.1,322.9 L208.6,324.4 L209.0,325.8 L209.5,327.3 L209.9,328.7 L210.4,330.1 L210.8,331.6 L211.3,333.0 L211.7,334.5 L212.2,335.9 L212.6,337.3 L213.0,338.8 L213.5,340.2 L213.9,341.6 L214.4,343.1 L214.8,344.5 L215.3,346.0 L215.7,347.4 L216.1,348.8 L216.6,350.3 L217.0,351.7 L217.4,353.2 L217.9,354.6 L218.3,356.1 L218.7,357.5 L219.1,359.0 L219.6,360.4 L220.0,361.9 L220.4,363.4 L220.8,364.9 L221.2,366.3 L221.6,367.8 L222.0,369.3 L222.4,370.8 L222.8,372.3 L223.1,373.8 L223.5,375.4 L223.9,376.9 L224.3,378.4 L224.6,380.0 L225.0,381.5 L225.3,383.0 L225.7,384.6 L226.1,386.1 L226.4,387.7 L226.8,389.3 L227.1,390.8 L227.5,392.4 L227.9,393.9 L228.2,395.5 L228.6,397.0 L229.0,398.6 L229.3,400.1 L229.7,401.7 L230.1,403.2 L230.5,404.8 L230.9,406.3 L231.3,407.8 L231.7,409.3 L232.1,410.9 L232.6,412.4 L233.0,413.9 L233.5,415.4 L233.9,416.8 L234.4,418.3 L234.9,419.8 L235.4,421.2 L235.9,422.7 L236.4,424.1 L236.9,425.5 L237.4,426.9 L238.0,428.3 L238.6,429.7 L239.2,431.1 L239.8,432.4 L240.4,433.8 L241.0,435.1 L241.7,436.4 L242.4,437.7 L243.1,438.9 L243.8,440.2 L244.5,441.4 L245.3,442.6 L246.1,443.8 L246.9,445.0 L247.8,446.1 L248.7,447.2 L249.6,448.3 L250.6,449.4 L251.7,450.5 L252.8,451.5 L253.9,452.5 L255.1,453.5 L256.4,454.4 L257.8,455.4 L259.2,456.3 L260.7,457.1 L262.3,458.0 L263.9,458.8 L265.7,459.6 L267.5,460.3 L269.4,461.1 L271.4,461.8 L273.5,462.5 L275.5,463.1 L277.6,463.8 L279.6,464.5 L281.6,465.2 L283.5,466.0 L285.3,466.8 L287.1,467.6 L288.7,468.4 L290.2,469.3 L291.7,470.2 L293.1,471.1 L294.4,472.1 L295.6,473.1 L296.8,474.1 L297.9,475.2 L299.0,476.2 L300.0,477.3 L300.9,478.5 L301.9,479.6 L302.7,480.8 L303.6,481.9 L304.4,483.1 L305.2,484.3 L306.0,485.5 L306.8,486.8 L307.5,488.0 L308.3,489.3 L309.0,490.6 L309.8,491.8 L310.5,493.1 L311.3,494.4 L312.0,495.7 L312.8,497.0 L313.5,498.3 L314.3,499.6 L315.1,500.9 L315.9,502.2 L316.7,503.5 L317.5,504.8 L318.3,506.1 L319.1,507.3 L319.9,508.6 L320.8,509.8 L321.7,511.1 L322.6,512.3 L323.5,513.5 L324.4,514.7 L325.3,515.8 L326.3,517.0 L327.3,518.1 L328.3,519.2 L329.3,520.3 L330.3,521.3 L331.4,522.4 L332.5,523.3 L333.6,524.3 L334.8,525.2 L335.9,526.2 L337.1,527.0 L338.3,527.9 L339.5,528.7 L340.8,529.6 L342.0,530.3 L343.3,531.1 L344.6,531.9 L345.9,532.6 L347.2,533.3 L348.6,534.0 L349.9,534.6 L351.3,535.3 L352.6,535.9 L354.0,536.5 L355.4,537.1 L356.8,537.7 L358.2,538.3 L359.6,538.9 L360.9,539.5 L362.3,540.1 L363.7,540.7 L365.0,541.4 L366.4,542.0 L367.7,542.7 L369.0,543.4 L370.2,544.2 L371.5,545.0 L372.7,545.8 L373.9,546.7 L375.1,547.6 L376.3,548.5 L377.4,549.4 L378.5,550.4 L379.6,551.4 L380.7,552.5 L381.7,553.5 L382.8,554.6 L383.8,555.7 L384.8,556.8 L385.8,557.9 L386.8,559.1 L387.8,560.2 L388.8,561.4 L389.7,562.6 L390.7,563.8 L391.6,565.0 L392.6,566.2 L393.5,567.4 L394.5,568.6 L395.4,569.8 L396.4,571.0 L397.3,572.2 L398.3,573.4 L399.2,574.5 L400.2,575.7 L401.2,576.9 L402.1,578.0 L403.1,579.2 L404.1,580.3 L405.1,581.4 L406.1,582.5 L407.1,583.6 L408.1,584.7 L409.1,585.8 L410.1,586.8 L411.2,587.9 L412.2,588.9 L413.3,590.0 L414.3,591.0 L415.4,592.0 L416.5,593.0 L417.6,594.0 L418.7,594.9 L419.8,595.9 L420.9,596.8 L422.0,597.8 L423.2,598.7 L424.3,599.6 L425.5,600.5 L426.7,601.4 L427.9,602.2 L429.1,603.1 L430.3,603.9 L431.5,604.7 L432.8,605.6 L434.0,606.4 L435.3,607.1 L436.6,607.9 L437.9,608.7 L439.2,609.4 L440.5,610.1 L441.9,610.9 L443.2,611.6 L444.6,612.3 L445.9,612.9 L447.3,613.6 L448.7,614.3 L450.0,615.1 L451.3,615.8 L452.6,616.6 L453.8,617.5 L455.0,618.4 L456.1,619.4 L457.2,620.4 L458.2,621.5 L459.1,622.7 L459.7,624.2 L459.7,628.3 L457.9,631.4 L456.6,631.3 L455.6,630.4 L454.5,629.6 L453.4,628.8 L452.2,628.1 L450.9,627.4 L449.6,626.7 L448.3,626.1 L446.9,625.5 L445.5,624.8 L444.2,624.2 L442.8,623.6 L441.4,623.0 L440.0,622.4 L438.6,621.7 L437.2,621.0 L435.9,620.3 L434.6,619.6 L433.3,618.8 L432.0,618.0 L430.7,617.2 L429.5,616.4 L428.2,615.5 L427.0,614.6 L425.8,613.7 L424.6,612.8 L423.5,611.9 L422.3,610.9 L421.2,610.0 L420.0,609.0 L418.9,608.0 L417.8,607.0 L416.7,606.0 L415.6,604.9 L414.5,603.9 L413.4,602.8 L412.4,601.8 L411.3,600.7 L410.3,599.6 L409.2,598.5 L408.2,597.4 L407.2,596.3 L406.1,595.2 L405.1,594.1 L404.1,593.0 L403.1,591.9 L402.1,590.8 L401.1,589.7 L400.1,588.6 L399.1,587.4 L398.2,586.3 L397.2,585.2 L396.2,584.0 L395.2,582.9 L394.3,581.8 L393.3,580.6 L392.4,579.4 L391.4,578.3 L390.4,577.1 L389.5,576.0 L388.5,574.8 L387.5,573.7 L386.5,572.5 L385.6,571.4 L384.6,570.3 L383.6,569.1 L382.6,568.0 L381.5,566.9 L380.5,565.8 L379.5,564.8 L378.4,563.7 L377.3,562.7 L376.2,561.7 L375.1,560.7 L374.0,559.7 L372.9,558.8 L371.7,557.9 L370.5,557.0 L369.3,556.1 L368.1,555.3 L366.8,554.5 L365.6,553.8 L364.3,553.1 L362.9,552.4 L361.6,551.7 L360.2,551.0 L358.9,550.4 L357.5,549.8 L356.1,549.1 L354.7,548.5 L353.4,547.9 L352.0,547.3 L350.6,546.7 L349.2,546.0 L347.9,545.4 L346.5,544.7 L345.2,544.0 L343.8,543.3 L342.5,542.5 L341.2,541.8 L339.9,541.0 L338.7,540.2 L337.4,539.3 L336.2,538.5 L335.0,537.6 L333.8,536.7 L332.6,535.8 L331.5,534.8 L330.3,533.8 L329.2,532.8 L328.1,531.8 L327.1,530.7 L326.0,529.6 L325.0,528.5 L324.0,527.4 L323.1,526.2 L322.1,525.0 L321.2,523.8 L320.3,522.6 L319.4,521.3 L318.5,520.1 L317.7,518.8 L316.8,517.5 L316.0,516.2 L315.2,514.9 L314.4,513.6 L313.6,512.3 L312.8,511.0 L312.0,509.7 L311.2,508.4 L310.5,507.0 L309.7,505.7 L308.9,504.4 L308.2,503.1 L307.4,501.8 L306.7,500.5 L305.9,499.2 L305.2,498.0 L304.4,496.7 L303.7,495.5 L302.9,494.2 L302.1,493.0 L301.3,491.8 L300.5,490.7 L299.6,489.5 L298.7,488.4 L297.8,487.3 L296.8,486.2 L295.8,485.2 L294.7,484.2 L293.5,483.2 L292.3,482.2 L291.1,481.3 L289.7,480.4 L288.3,479.5 L286.8,478.7 L285.2,477.9 L283.6,477.2 L281.8,476.5 L279.9,475.9 L277.9,475.3 L275.9,474.8 L273.8,474.3 L271.6,473.8 L269.4,473.3 L267.3,472.9 L265.2,472.4 L263.2,472.0 L261.2,471.5 L259.4,471.0 L257.6,470.4 L254.9,469.3 L253.2,468.4 L251.6,467.5 L250.1,466.6 L248.8,465.6 L247.5,464.6 L246.4,463.5 L245.4,462.4 L244.5,461.2 L243.6,460.1 L242.8,458.8 L242.1,457.6 L241.5,456.3 L240.8,455.0 L240.3,453.7 L239.7,452.3 L239.2,451.0 L238.8,449.6 L238.3,448.2 L237.9,446.8 L237.5,445.3 L237.1,443.9 L236.7,442.5 L236.3,441.0 L235.9,439.6 L235.5,438.1 L235.1,436.7 L234.7,435.3 L234.3,433.8 L233.9,432.4 L233.4,430.9 L233.0,429.5 L232.6,428.0 L232.1,426.6 L231.7,425.1 L231.2,423.7 L230.8,422.2 L230.3,420.7 L229.9,419.3 L229.4,417.8 L228.9,416.4 L228.5,414.9 L228.0,413.4 L227.6,412.0 L227.1,410.5 L226.6,409.0 L226.2,407.6 L225.7,406.1 L225.2,404.6 L224.8,403.2 L224.3,401.7 L223.9,400.2 L223.4,398.7 L223.0,397.2 L222.5,395.7 L222.1,394.3 L221.6,392.8 L221.2,391.3 L220.7,389.8 L220.3,388.3 L219.9,386.8 L219.4,385.3 L219.0,383.8 L218.6,382.3 L218.2,380.8 L217.8,379.3 L217.4,377.8 L217.0,376.3 L216.6,374.7 L216.2,373.2 L215.9,371.7 L215.5,370.2 L215.1,368.7 L214.8,367.1 L214.4,365.6 L214.1,364.1 L213.7,362.6 L213.4,361.0 L213.1,359.5 L212.7,358.0 L212.4,356.5 L212.0,354.9 L211.7,353.4 L211.3,351.9 L211.0,350.4 L210.7,348.9 L210.3,347.4 L209.9,345.8 L209.6,344.3 L209.2,342.8 L208.9,341.3 L208.5,339.9 L208.1,338.4 L207.7,336.9 L207.3,335.4 L206.9,333.9 L206.5,332.5 L206.1,331.0 L205.6,329.6 L205.2,328.1 L204.7,326.7 L204.3,325.2 L203.8,323.8 L203.3,322.4 L202.8,321.0 L202.3,319.6 L201.7,318.2 L201.2,316.8 L200.6,315.5 L200.0,314.1 L199.4,312.8 L198.8,311.4 L198.1,310.1 L197.5,308.8 L196.8,307.5 L196.1,306.2 L195.5,304.9 L194.8,303.6 L194.1,302.3 L193.4,301.0 L192.7,299.7 L191.9,298.4 L191.2,297.0 L190.5,295.7 L189.9,294.4 L189.2,293.0 L188.5,291.7 L188.0,290.3 L187.6,288.9 L187.4,287.5 L187.5,286.1 L187.8,284.6 L188.5,283.1Z" fill="#5e81b5"/>
<path d="M160.9,485.1 L162.2,486.1 L163.5,486.8 L164.9,487.3 L166.4,487.6 L167.9,487.7 L169.4,487.6 L171.0,487.4 L172.6,487.0 L174.3,486.5 L176.0,485.9 L177.7,485.3 L179.4,484.6 L181.1,483.8 L182.8,483.0 L184.5,482.3 L186.2,481.6 L187.9,480.9 L189.6,480.2 L191.3,479.7 L193.0,479.3 L194.6,478.9 L196.2,478.8 L197.7,478.8 L199.3,478.9 L200.7,479.3 L202.2,479.9 L203.6,480.6 L204.9,481.4 L206.2,482.4 L207.5,483.5 L208.7,484.7 L209.9,485.9 L211.1,487.3 L212.2,488.7 L213.3,490.1 L214.4,491.6 L215.4,493.1 L216.4,494.5 L217.4,495.9 L218.3,497.4 L219.3,498.7 L220.1,500.1 L221.0,501.5 L221.9,502.8 L222.7,504.1 L223.5,505.4 L224.3,506.7 L225.0,508.0 L225.8,509.3 L226.5,510.6 L227.2,511.8 L227.9,513.1 L228.6,514.4 L229.2,515.7 L229.9,517.0 L230.5,518.3 L231.1,519.7 L231.8,521.0 L232.4,522.4 L233.0,523.7 L233.6,525.1 L234.2,526.5 L234.8,527.9 L235.4,529.2 L235.9,530.6 L236.5,532.0 L237.1,533.4 L237.7,534.8 L238.3,536.2 L238.9,537.6 L239.5,539.0 L240.1,540.4 L240.7,541.8 L241.3,543.1 L241.9,544.5 L242.5,545.8 L243.2,547.2 L243.8,548.5 L244.5,549.9 L245.2,551.2 L245.9,552.5 L246.6,553.7 L247.3,555.0 L248.1,556.2 L248.8,557.5 L249.7,558.7 L250.5,559.9 L251.4,561.0 L252.3,562.2 L253.2,563.3 L254.2,564.4 L255.2,565.4 L256.3,566.4 L257.4,567.5 L258.6,568.4 L259.7,569.4 L261.0,570.3 L262.2,571.2 L263.5,572.0 L264.8,572.9 L266.1,573.7 L267.5,574.4 L268.8,575.2 L270.2,575.9 L271.6,576.6 L273.0,577.2 L274.5,577.8 L275.9,578.4 L277.3,579.0 L278.7,579.5 L280.1,580.0 L281.6,580.5 L283.0,581.0 L284.4,581.5 L285.8,582.0 L287.1,582.5 L288.5,583.1 L289.8,583.6 L291.1,584.3 L292.4,584.9 L293.7,585.6 L294.9,586.3 L296.1,587.1 L297.3,587.9 L298.5,588.8 L299.6,589.7 L300.8,590.6 L301.9,591.5 L302.9,592.5 L304.0,593.5 L305.1,594.6 L306.1,595.6 L307.1,596.7 L308.1,597.8 L309.1,599.0 L310.1,600.1 L311.1,601.3 L312.0,602.5 L313.0,603.7 L313.9,604.9 L314.9,606.1 L315.8,607.4 L316.7,608.6 L317.6,609.9 L318.5,611.1 L319.4,612.4 L320.3,613.7 L321.2,615.0 L322.2,616.2 L323.1,617.5 L324.0,618.8 L324.9,620.0 L325.8,621.3 L326.7,622.5 L327.6,623.8 L328.5,625.0 L329.4,626.2 L330.4,627.4 L331.3,628.6 L332.3,629.8 L333.2,631.0 L334.2,632.2 L335.2,633.3 L336.2,634.5 L337.2,635.6 L338.2,636.7 L339.3,637.7 L340.3,638.8 L341.4,639.8 L342.5,640.8 L343.6,641.8 L344.7,642.8 L345.9,643.7 L347.0,644.6 L348.2,645.5 L349.4,646.4 L350.6,647.2 L351.8,648.1 L353.1,648.9 L354.3,649.7 L355.6,650.5 L356.9,651.3 L358.1,652.0 L359.4,652.8 L360.7,653.6 L362.0,654.3 L363.3,655.1 L364.6,655.8 L365.9,656.6 L367.2,657.3 L368.5,658.1 L369.8,658.9 L371.0,659.6 L372.3,660.4 L373.6,661.2 L374.8,662.0 L376.1,662.8 L377.3,663.7 L378.5,664.5 L379.7,665.4 L380.9,666.3 L382.1,667.2 L383.3,668.1 L384.5,669.0 L385.6,670.0 L386.7,670.9 L387.9,671.9 L389.0,672.9 L390.1,673.9 L391.2,674.9 L392.3,675.9 L393.4,677.0 L394.5,678.0 L395.5,679.1 L396.6,680.1 L397.6,681.2 L398.7,682.3 L399.7,683.4 L400.7,684.5 L401.8,685.6 L402.8,686.7 L403.8,687.8 L404.8,688.9 L405.8,690.0 L406.8,691.2 L407.8,692.3 L408.8,693.4 L409.8,694.6 L410.8,695.7 L411.8,696.9 L412.8,698.0 L413.8,699.1 L414.8,700.3 L415.7,701.4 L416.7,702.6 L417.7,703.7 L418.7,704.8 L419.7,706.0 L420.7,707.1 L421.7,708.2 L422.7,709.3 L423.7,710.4 L424.6,711.5 L425.6,712.6 L426.6,713.7 L427.7,714.8 L428.7,715.9 L429.7,717.0 L430.7,718.0 L431.7,719.1 L432.5,720.5 L432.5,726.4 L430.5,729.5 L429.1,728.2 L428.0,727.3 L426.9,726.4 L425.9,725.4 L424.8,724.5 L423.8,723.5 L422.8,722.4 L421.7,721.4 L420.7,720.3 L419.7,719.2 L418.7,718.1 L417.7,716.9 L416.8,715.8 L415.8,714.6 L414.8,713.4 L413.8,712.3 L412.9,711.1 L411.9,709.9 L410.9,708.7 L409.9,707.5 L409.0,706.3 L408.0,705.1 L407.0,703.9 L406.0,702.7 L405.0,701.5 L404.1,700.3 L403.1,699.2 L402.1,698.0 L401.0,696.9 L400.0,695.8 L399.0,694.7 L397.9,693.6 L396.9,692.6 L395.8,691.6 L394.8,690.6 L393.7,689.6 L392.6,688.6 L391.5,687.7 L390.3,686.8 L389.2,685.9 L388.1,685.0 L386.9,684.1 L385.8,683.3 L384.6,682.5 L383.4,681.7 L382.2,680.9 L381.0,680.1 L379.8,679.3 L378.6,678.6 L377.3,677.8 L376.1,677.1 L374.8,676.4 L373.5,675.7 L372.2,675.0 L371.0,674.3 L369.7,673.6 L368.3,672.9 L367.0,672.2 L365.7,671.5 L364.4,670.8 L363.1,670.1 L361.8,669.4 L360.5,668.6 L359.2,667.9 L357.9,667.1 L356.6,666.3 L355.3,665.5 L354.1,664.6 L352.8,663.7 L351.6,662.9 L350.4,661.9 L349.1,661.0 L347.9,660.1 L346.8,659.1 L345.6,658.1 L344.4,657.0 L343.3,656.0 L342.2,654.9 L341.1,653.8 L340.0,652.7 L339.0,651.5 L337.9,650.3 L336.9,649.1 L335.9,647.9 L334.9,646.6 L333.9,645.4 L333.0,644.1 L332.0,642.8 L331.1,641.5 L330.2,640.2 L329.2,638.9 L328.3,637.6 L327.4,636.3 L326.5,635.0 L325.6,633.7 L324.7,632.4 L323.8,631.1 L322.9,629.8 L322.0,628.5 L321.1,627.2 L320.2,626.0 L319.3,624.7 L318.4,623.5 L317.5,622.2 L316.5,621.0 L315.6,619.8 L314.7,618.6 L313.7,617.4 L312.8,616.2 L311.8,615.1 L310.9,613.9 L309.9,612.8 L308.9,611.7 L307.9,610.6 L306.9,609.5 L305.9,608.4 L304.9,607.4 L303.8,606.4 L302.7,605.4 L301.7,604.4 L300.6,603.5 L299.5,602.5 L298.4,601.6 L297.2,600.8 L296.1,599.9 L294.9,599.1 L293.7,598.4 L292.5,597.6 L291.2,596.9 L290.0,596.2 L288.7,595.6 L287.4,595.0 L286.0,594.4 L284.7,593.9 L283.3,593.4 L281.9,592.9 L280.5,592.4 L279.1,591.9 L277.7,591.4 L276.3,590.9 L274.8,590.4 L273.4,589.9 L272.0,589.3 L270.6,588.7 L269.2,588.1 L267.8,587.4 L266.4,586.6 L265.0,585.8 L263.7,585.0 L262.3,584.2 L261.0,583.3 L259.8,582.3 L258.5,581.4 L257.3,580.3 L256.1,579.3 L255.0,578.2 L253.9,577.0 L252.9,575.9 L251.8,574.6 L250.9,573.4 L250.0,572.1 L249.1,570.9 L248.2,569.6 L247.4,568.2 L246.6,566.9 L245.9,565.5 L245.1,564.2 L244.4,562.8 L243.7,561.5 L243.0,560.1 L242.4,558.8 L241.7,557.4 L241.0,556.1 L240.4,554.8 L239.7,553.5 L239.1,552.2 L238.4,550.9 L237.8,549.6 L237.1,548.3 L236.5,547.0 L235.9,545.7 L235.2,544.4 L234.6,543.1 L234.0,541.8 L233.4,540.5 L232.8,539.2 L232.1,537.8 L231.5,536.5 L230.9,535.1 L230.4,533.7 L229.8,532.3 L229.2,531.0 L228.6,529.6 L227.9,528.2 L227.3,526.8 L226.7,525.4 L226.1,524.1 L225.4,522.7 L224.8,521.4 L224.1,520.0 L223.4,518.7 L222.7,517.4 L222.0,516.0 L221.2,514.7 L220.5,513.4 L219.7,512.1 L218.8,510.8 L218.0,509.4 L217.1,508.1 L216.2,506.8 L215.2,505.5 L214.2,504.2 L213.2,502.9 L212.1,501.6 L211.0,500.4 L209.8,499.2 L208.6,498.0 L207.4,497.0 L206.0,496.0 L204.7,495.2 L203.3,494.4 L201.8,493.8 L200.3,493.3 L198.8,492.9 L197.2,492.6 L195.6,492.5 L194.0,492.5 L192.3,492.7 L190.6,493.1 L188.8,493.6 L187.1,494.3 L185.3,495.0 L183.5,495.7 L181.8,496.5 L180.0,497.2 L178.3,498.0 L176.6,498.6 L175.0,499.2 L173.3,499.7 L171.8,500.1 L170.2,500.3 L168.7,500.4 L167.3,500.4 L165.9,500.1 L164.6,499.8 L163.3,499.2 L162.0,498.4 L160.9,497.4 L159.8,496.1 L158.8,488.2Z" fill="#c56e1a"/>
<path d="M127.6,567.3 L128.6,568.4 L129.6,569.4 L130.6,570.5 L131.7,571.6 L132.7,572.6 L133.8,573.7 L134.9,574.7 L136.0,575.7 L137.1,576.7 L138.3,577.7 L139.4,578.7 L140.6,579.7 L141.8,580.6 L143.0,581.6 L144.2,582.5 L145.4,583.4 L146.6,584.3 L147.9,585.1 L149.2,586.0 L150.4,586.8 L151.7,587.6 L153.0,588.4 L154.3,589.1 L155.6,589.8 L157.0,590.5 L158.3,591.2 L159.6,591.9 L161.0,592.5 L162.4,593.1 L163.7,593.6 L165.1,594.2 L166.5,594.7 L167.9,595.1 L169.3,595.6 L170.7,596.0 L172.2,596.3 L173.6,596.7 L175.0,597.0 L176.4,597.3 L177.9,597.6 L179.3,597.8 L180.8,598.1 L182.2,598.4 L183.6,598.7 L185.1,599.0 L186.5,599.3 L187.9,599.6 L189.3,600.0 L190.7,600.4 L192.1,600.8 L193.5,601.3 L194.9,601.9 L196.2,602.5 L197.6,603.1 L198.9,603.8 L200.2,604.6 L201.5,605.4 L202.8,606.2 L204.1,607.0 L205.3,607.9 L206.5,608.9 L207.7,609.8 L208.9,610.8 L210.0,611.8 L211.1,612.8 L212.2,613.9 L213.3,615.0 L214.3,616.0 L215.3,617.1 L216.3,618.2 L217.2,619.4 L218.2,620.5 L219.1,621.7 L220.0,622.8 L220.9,624.0 L221.8,625.2 L222.6,626.4 L223.4,627.7 L224.3,628.9 L225.1,630.1 L225.9,631.4 L226.7,632.6 L227.4,633.9 L228.2,635.2 L228.9,636.5 L229.7,637.8 L230.4,639.1 L231.2,640.4 L231.9,641.7 L232.6,643.0 L233.3,644.3 L234.1,645.6 L234.8,646.9 L235.5,648.2 L236.2,649.6 L237.0,650.9 L237.7,652.2 L238.4,653.5 L239.1,654.9 L239.9,656.2 L240.6,657.5 L241.4,658.8 L242.1,660.1 L242.9,661.4 L243.7,662.7 L244.5,664.0 L245.3,665.3 L246.1,666.6 L246.9,667.9 L247.7,669.1 L248.6,670.4 L249.5,671.6 L250.3,672.9 L251.2,674.1 L252.1,675.3 L253.0,676.5 L253.9,677.7 L254.9,678.8 L255.8,680.0 L256.8,681.1 L257.7,682.3 L258.7,683.4 L259.7,684.5 L260.8,685.5 L261.8,686.6 L262.9,687.6 L263.9,688.6 L265.0,689.6 L266.1,690.6 L267.2,691.5 L268.4,692.5 L269.5,693.4 L270.7,694.2 L271.9,695.1 L273.1,695.9 L274.3,696.7 L275.5,697.5 L276.8,698.2 L278.1,698.9 L279.4,699.6 L280.7,700.3 L282.0,701.0 L283.3,701.6 L284.6,702.2 L286.0,702.9 L287.3,703.5 L288.7,704.2 L290.0,704.8 L291.4,705.5 L292.7,706.2 L294.0,706.8 L295.4,707.6 L296.7,708.3 L298.0,709.1 L299.3,709.9 L300.6,710.7 L301.8,711.5 L303.1,712.4 L304.3,713.3 L305.5,714.2 L306.7,715.1 L307.8,716.1 L309.0,717.1 L310.1,718.1 L311.2,719.1 L312.2,720.2 L313.3,721.3 L314.3,722.3 L315.3,723.4 L316.3,724.6 L317.3,725.7 L318.3,726.8 L319.2,728.0 L320.2,729.1 L321.1,730.3 L322.0,731.5 L323.0,732.7 L323.9,733.8 L324.8,735.0 L325.7,736.2 L326.6,737.4 L327.5,738.6 L328.4,739.8 L329.3,741.0 L330.3,742.1 L331.2,743.3 L332.1,744.5 L333.0,745.7 L333.9,746.8 L334.8,748.0 L335.7,749.2 L336.7,750.3 L337.6,751.5 L338.5,752.6 L339.5,753.8 L340.4,754.9 L341.3,756.0 L342.3,757.2 L343.2,758.3 L344.2,759.4 L345.2,760.5 L346.2,761.6 L347.1,762.6 L348.1,763.7 L349.1,764.7 L350.2,765.8 L351.2,766.8 L352.2,767.8 L353.3,768.8 L354.4,769.8 L355.5,770.8 L356.6,771.8 L357.7,772.7 L358.8,773.7 L359.9,774.6 L361.1,775.5 L362.3,776.5 L363.4,777.4 L364.6,778.2 L365.8,779.1 L367.0,780.0 L368.2,780.8 L369.4,781.7 L370.7,782.5 L371.9,783.3 L373.2,784.2 L374.4,785.0 L375.7,785.8 L376.9,786.5 L378.2,787.3 L379.5,788.1 L380.7,788.8 L382.0,789.6 L383.3,790.4 L384.6,791.1 L385.8,791.9 L387.1,792.7 L388.3,793.5 L389.6,794.3 L390.8,795.1 L392.0,795.9 L393.2,796.8 L394.4,797.6 L395.6,798.5 L396.7,799.5 L397.8,800.5 L398.9,801.5 L400.0,802.5 L401.1,803.6 L402.1,804.7 L403.1,805.9 L404.0,807.1 L404.8,808.5 L404.8,813.7 L403.2,816.1 L401.5,815.5 L400.5,814.7 L399.4,813.8 L398.3,812.9 L397.2,812.1 L396.0,811.3 L394.9,810.5 L393.7,809.6 L392.5,808.9 L391.3,808.1 L390.1,807.3 L388.9,806.5 L387.6,805.8 L386.4,805.0 L385.1,804.2 L383.8,803.5 L382.6,802.7 L381.3,801.9 L380.0,801.1 L378.8,800.4 L377.5,799.6 L376.2,798.8 L375.0,798.0 L373.7,797.1 L372.5,796.3 L371.2,795.4 L370.0,794.5 L368.8,793.7 L367.5,792.8 L366.3,791.9 L365.1,790.9 L363.9,790.0 L362.7,789.1 L361.6,788.1 L360.4,787.2 L359.2,786.2 L358.1,785.3 L356.9,784.3 L355.8,783.3 L354.7,782.3 L353.6,781.3 L352.5,780.3 L351.4,779.3 L350.4,778.2 L349.3,777.2 L348.3,776.2 L347.2,775.1 L346.2,774.0 L345.2,772.9 L344.2,771.9 L343.2,770.8 L342.3,769.7 L341.3,768.5 L340.3,767.4 L339.4,766.3 L338.4,765.2 L337.5,764.0 L336.6,762.9 L335.6,761.7 L334.7,760.6 L333.8,759.4 L332.8,758.3 L331.9,757.1 L331.0,756.0 L330.1,754.8 L329.1,753.6 L328.2,752.5 L327.3,751.3 L326.4,750.1 L325.5,748.9 L324.6,747.8 L323.6,746.6 L322.7,745.4 L321.8,744.3 L320.9,743.1 L319.9,741.9 L319.0,740.8 L318.1,739.6 L317.1,738.5 L316.2,737.3 L315.2,736.2 L314.2,735.1 L313.2,734.0 L312.2,732.9 L311.2,731.8 L310.1,730.8 L309.1,729.7 L308.0,728.7 L306.9,727.7 L305.8,726.7 L304.6,725.8 L303.5,724.8 L302.3,723.9 L301.1,723.0 L299.8,722.1 L298.6,721.3 L297.3,720.5 L296.0,719.7 L294.7,718.9 L293.4,718.2 L292.0,717.5 L290.7,716.8 L289.3,716.1 L288.0,715.5 L286.6,714.8 L285.3,714.2 L283.9,713.6 L282.6,712.9 L281.2,712.3 L279.9,711.7 L278.5,711.0 L277.2,710.4 L275.9,709.7 L274.6,709.0 L273.3,708.3 L272.0,707.6 L270.8,706.8 L269.6,706.0 L268.4,705.2 L267.2,704.4 L266.0,703.5 L264.8,702.6 L263.7,701.6 L262.6,700.7 L261.5,699.7 L260.4,698.7 L259.3,697.7 L258.3,696.6 L257.3,695.5 L256.2,694.4 L255.2,693.3 L254.3,692.2 L253.3,691.0 L252.3,689.9 L251.4,688.7 L250.5,687.5 L249.6,686.2 L248.7,685.0 L247.8,683.8 L246.9,682.5 L246.0,681.2 L245.2,679.9 L244.4,678.6 L243.5,677.3 L242.7,676.0 L241.9,674.7 L241.1,673.4 L240.4,672.0 L239.6,670.7 L238.8,669.3 L238.1,668.0 L237.3,666.6 L236.6,665.3 L235.9,663.9 L235.2,662.6 L234.4,661.2 L233.7,659.9 L233.0,658.5 L232.3,657.1 L231.6,655.8 L230.9,654.4 L230.2,653.1 L229.4,651.8 L228.7,650.4 L228.0,649.1 L227.3,647.8 L226.5,646.5 L225.8,645.2 L225.0,643.9 L224.3,642.6 L223.5,641.3 L222.7,640.1 L221.9,638.8 L221.1,637.6 L220.3,636.3 L219.4,635.1 L218.6,633.9 L217.7,632.8 L216.8,631.6 L215.9,630.5 L214.9,629.3 L214.0,628.2 L213.0,627.1 L212.0,626.1 L211.0,625.0 L209.9,624.0 L208.8,623.0 L207.7,622.0 L206.6,621.0 L205.4,620.1 L204.2,619.2 L203.0,618.3 L201.7,617.5 L200.5,616.7 L199.2,615.9 L197.9,615.1 L196.5,614.5 L195.2,613.8 L193.8,613.2 L192.4,612.6 L191.0,612.1 L189.6,611.7 L188.2,611.3 L186.8,610.9 L185.3,610.6 L183.9,610.3 L182.4,610.0 L181.0,609.7 L179.5,609.5 L178.0,609.3 L176.6,609.1 L175.1,608.8 L173.6,608.6 L172.2,608.3 L170.7,608.1 L169.3,607.8 L167.9,607.4 L166.4,607.1 L165.0,606.6 L163.6,606.2 L162.2,605.7 L160.8,605.1 L159.5,604.6 L158.1,603.9 L156.8,603.3 L155.4,602.6 L154.1,601.9 L152.8,601.1 L151.5,600.3 L150.2,599.5 L148.9,598.7 L147.7,597.8 L146.4,596.9 L145.2,596.0 L144.0,595.0 L142.7,594.1 L141.5,593.1 L140.4,592.1 L139.2,591.0 L138.0,590.0 L136.9,589.0 L135.7,587.9 L134.6,586.8 L133.5,585.7 L132.4,584.7 L131.3,583.6 L130.3,582.5 L129.2,581.4 L128.2,580.2 L127.1,579.1 L126.1,578.0 L125.5,570.5Z" fill="#5d9ec7"/>
<path d="M92.6,653.9 L93.8,654.8 L94.9,655.7 L96.1,656.6 L97.3,657.5 L98.4,658.5 L99.6,659.4 L100.7,660.4 L101.8,661.3 L103.0,662.3 L104.1,663.3 L105.2,664.3 L106.3,665.3 L107.5,666.3 L108.6,667.3 L109.7,668.3 L110.8,669.3 L111.9,670.3 L113.0,671.4 L114.1,672.4 L115.2,673.4 L116.3,674.4 L117.4,675.5 L118.5,676.5 L119.6,677.6 L120.7,678.6 L121.8,679.6 L122.9,680.7 L124.0,681.7 L125.2,682.7 L126.3,683.7 L127.4,684.8 L128.5,685.8 L129.6,686.8 L130.7,687.8 L131.8,688.8 L133.0,689.8 L134.1,690.8 L135.2,691.8 L136.4,692.8 L137.5,693.8 L138.6,694.7 L139.8,695.7 L140.9,696.6 L142.1,697.6 L143.3,698.5 L144.4,699.4 L145.6,700.3 L146.8,701.2 L148.0,702.1 L149.2,702.9 L150.4,703.8 L151.6,704.6 L152.9,705.5 L154.1,706.3 L155.3,707.1 L156.6,707.9 L157.9,708.6 L159.1,709.4 L160.4,710.1 L161.7,710.8 L163.0,711.5 L164.3,712.2 L165.6,712.9 L167.0,713.5 L168.3,714.2 L169.6,714.8 L171.0,715.4 L172.3,716.1 L173.6,716.7 L175.0,717.4 L176.3,718.0 L177.7,718.6 L179.0,719.3 L180.4,720.0 L181.7,720.6 L183.1,721.3 L184.4,722.0 L185.7,722.7 L187.0,723.4 L188.4,724.2 L189.7,724.9 L191.0,725.7 L192.3,726.4 L193.5,727.2 L194.8,728.0 L196.1,728.9 L197.3,729.7 L198.5,730.6 L199.7,731.4 L200.9,732.3 L202.1,733.2 L203.3,734.2 L204.4,735.1 L205.5,736.1 L206.7,737.0 L207.8,738.0 L208.8,739.0 L209.9,740.1 L211.0,741.1 L212.0,742.2 L213.0,743.2 L214.0,744.3 L215.0,745.4 L216.0,746.5 L217.0,747.6 L217.9,748.8 L218.9,749.9 L219.8,751.1 L220.7,752.2 L221.6,753.4 L222.5,754.6 L223.4,755.8 L224.3,757.0 L225.2,758.2 L226.0,759.5 L226.9,760.7 L227.7,761.9 L228.5,763.2 L229.4,764.4 L230.2,765.7 L231.0,766.9 L231.8,768.2 L232.6,769.5 L233.4,770.8 L234.2,772.0 L234.9,773.3 L235.7,774.6 L236.5,775.9 L237.3,777.2 L238.1,778.4 L238.8,779.7 L239.6,781.0 L240.4,782.3 L241.2,783.5 L242.0,784.8 L242.8,786.1 L243.6,787.3 L244.4,788.6 L245.2,789.8 L246.1,791.1 L246.9,792.3 L247.8,793.5 L248.6,794.7 L249.5,795.9 L250.4,797.1 L251.3,798.3 L252.2,799.5 L253.2,800.7 L254.1,801.8 L255.1,802.9 L256.1,804.0 L257.1,805.2 L258.1,806.2 L259.1,807.3 L260.2,808.4 L261.3,809.4 L262.4,810.5 L263.5,811.5 L264.6,812.5 L265.7,813.5 L266.8,814.5 L268.0,815.5 L269.1,816.5 L270.3,817.4 L271.5,818.4 L272.7,819.3 L273.9,820.2 L275.1,821.1 L276.3,822.0 L277.5,822.9 L278.7,823.8 L279.9,824.7 L281.2,825.6 L282.4,826.5 L283.6,827.3 L284.9,828.2 L286.1,829.0 L287.3,829.8 L288.6,830.7 L289.8,831.5 L291.1,832.3 L292.3,833.1 L293.5,833.9 L294.8,834.7 L296.0,835.5 L297.2,836.3 L298.4,837.1 L299.6,837.9 L300.8,838.6 L302.0,839.4 L303.2,840.2 L304.4,841.0 L305.6,841.8 L306.7,842.6 L307.9,843.5 L309.0,844.4 L310.1,845.4 L311.3,846.3 L312.4,847.4 L313.4,848.4 L314.5,849.5 L315.6,850.6 L316.6,851.8 L317.7,853.0 L318.7,854.1 L319.7,855.3 L320.8,856.5 L321.8,857.7 L322.8,858.9 L323.8,860.1 L324.8,861.3 L325.8,862.4 L326.8,863.6 L327.8,864.7 L328.8,865.8 L329.8,866.9 L330.8,868.0 L331.8,869.1 L332.7,870.2 L333.7,871.3 L334.7,872.3 L335.7,873.4 L336.7,874.5 L337.7,875.5 L338.6,876.6 L339.6,877.7 L340.6,878.8 L341.6,879.9 L342.5,881.0 L343.5,882.1 L344.5,883.2 L345.5,884.3 L346.4,885.4 L347.4,886.6 L348.4,887.7 L349.4,888.8 L350.4,890.0 L351.4,891.1 L352.3,892.2 L353.3,893.3 L354.3,894.5 L355.3,895.6 L356.3,896.7 L357.4,897.8 L358.4,899.0 L359.4,900.1 L360.4,901.2 L361.5,902.3 L362.5,903.4 L363.6,904.4 L364.6,905.5 L365.7,906.6 L366.8,907.6 L367.9,908.7 L369.0,909.7 L370.1,910.7 L371.2,911.7 L372.3,912.7 L374.5,915.2 L374.5,923.1 L372.4,925.4 L371.2,924.5 L370.0,923.5 L369.3,923.1 L368.2,922.0 L367.1,920.9 L366.0,919.9 L364.9,918.8 L363.8,917.7 L362.7,916.6 L361.7,915.5 L360.6,914.4 L359.6,913.2 L358.5,912.1 L357.5,911.0 L356.5,909.8 L355.5,908.7 L354.5,907.5 L353.4,906.4 L352.4,905.2 L351.4,904.1 L350.4,902.9 L349.5,901.8 L348.5,900.6 L347.5,899.5 L346.5,898.4 L345.5,897.2 L344.5,896.1 L343.6,894.9 L342.6,893.8 L341.6,892.7 L340.6,891.6 L339.6,890.5 L338.7,889.4 L337.7,888.3 L336.7,887.2 L335.7,886.1 L334.7,885.1 L333.8,884.0 L332.8,882.9 L331.8,881.9 L330.8,880.8 L329.8,879.7 L328.8,878.7 L327.8,877.6 L326.8,876.5 L325.8,875.4 L324.8,874.3 L323.8,873.2 L322.8,872.1 L321.8,871.0 L320.8,869.8 L319.7,868.6 L318.7,867.5 L317.7,866.3 L316.7,865.1 L315.6,863.9 L314.6,862.8 L313.5,861.6 L312.5,860.5 L311.4,859.4 L310.3,858.3 L309.2,857.3 L308.1,856.3 L307.0,855.3 L305.8,854.4 L304.7,853.5 L303.5,852.7 L302.4,851.9 L301.2,851.1 L300.0,850.3 L298.8,849.5 L297.6,848.7 L296.4,848.0 L295.1,847.2 L293.9,846.5 L292.7,845.7 L291.5,844.9 L290.2,844.1 L289.0,843.3 L287.7,842.5 L286.5,841.7 L285.2,840.9 L284.0,840.1 L282.7,839.3 L281.5,838.4 L280.3,837.6 L279.0,836.7 L277.8,835.9 L276.5,835.0 L275.3,834.1 L274.1,833.2 L272.9,832.3 L271.7,831.4 L270.4,830.5 L269.2,829.6 L268.1,828.7 L266.9,827.7 L265.7,826.7 L264.5,825.8 L263.4,824.8 L262.2,823.8 L261.1,822.8 L260.0,821.8 L258.9,820.7 L257.8,819.7 L256.7,818.6 L255.7,817.6 L254.6,816.5 L253.6,815.4 L252.6,814.3 L251.6,813.1 L250.6,812.0 L249.7,810.8 L248.8,809.7 L247.8,808.5 L246.9,807.3 L246.0,806.1 L245.2,804.9 L244.3,803.6 L243.4,802.4 L242.6,801.2 L241.8,799.9 L240.9,798.7 L240.1,797.4 L239.3,796.1 L238.5,794.8 L237.7,793.6 L236.9,792.3 L236.2,791.0 L235.4,789.7 L234.6,788.4 L233.8,787.1 L233.0,785.9 L232.3,784.6 L231.5,783.3 L230.7,782.0 L229.9,780.7 L229.1,779.4 L228.3,778.2 L227.5,776.9 L226.7,775.6 L225.9,774.4 L225.1,773.1 L224.2,771.9 L223.4,770.6 L222.5,769.4 L221.7,768.2 L220.8,767.0 L219.9,765.8 L219.0,764.6 L218.1,763.4 L217.2,762.2 L216.3,761.0 L215.3,759.9 L214.4,758.8 L213.4,757.6 L212.5,756.5 L211.5,755.4 L210.5,754.3 L209.4,753.2 L208.4,752.2 L207.4,751.1 L206.3,750.1 L205.2,749.1 L204.2,748.0 L203.1,747.1 L201.9,746.1 L200.8,745.1 L199.7,744.2 L198.5,743.3 L197.3,742.4 L196.1,741.5 L194.9,740.6 L193.6,739.8 L192.4,738.9 L191.1,738.1 L189.9,737.3 L188.6,736.5 L187.3,735.8 L186.0,735.0 L184.7,734.3 L183.3,733.5 L182.0,732.8 L180.7,732.1 L179.3,731.4 L178.0,730.8 L176.6,730.1 L175.3,729.4 L173.9,728.8 L172.6,728.1 L171.2,727.5 L169.9,726.9 L168.5,726.2 L167.2,725.6 L165.8,725.0 L164.5,724.3 L163.1,723.7 L161.8,723.0 L160.5,722.3 L159.2,721.7 L157.9,721.0 L156.6,720.3 L155.3,719.5 L154.0,718.8 L152.7,718.0 L151.5,717.2 L150.2,716.4 L149.0,715.6 L147.8,714.8 L146.5,713.9 L145.3,713.1 L144.1,712.2 L142.9,711.3 L141.7,710.4 L140.6,709.5 L139.4,708.6 L138.2,707.7 L137.1,706.7 L135.9,705.8 L134.7,704.8 L133.6,703.8 L132.5,702.8 L131.3,701.8 L130.2,700.8 L129.1,699.8 L127.9,698.8 L126.8,697.8 L125.7,696.8 L124.6,695.7 L123.5,694.7 L122.4,693.6 L121.3,692.6 L120.2,691.5 L119.1,690.5 L118.0,689.4 L116.9,688.4 L115.8,687.3 L114.7,686.3 L113.6,685.2 L112.5,684.1 L111.4,683.1 L110.3,682.0 L109.2,681.0 L108.1,679.9 L107.0,678.9 L105.9,677.8 L104.8,676.8 L103.7,675.7 L102.6,674.7 L101.5,673.6 L100.4,672.6 L99.2,671.6 L98.1,670.6 L97.0,669.6 L95.9,668.6 L94.7,667.6 L93.6,666.6 L92.5,665.6 L91.3,664.6 L91.0,657.0Z" fill="#ffbf00"/>
<path d="M56.3,746.0 L57.3,747.0 L58.4,748.1 L59.5,749.1 L60.5,750.1 L61.6,751.2 L62.7,752.2 L63.7,753.2 L64.8,754.3 L65.9,755.3 L67.0,756.3 L68.0,757.3 L69.1,758.4 L70.2,759.4 L71.3,760.4 L72.4,761.4 L73.5,762.4 L74.6,763.4 L75.7,764.5 L76.7,765.5 L77.8,766.5 L78.9,767.5 L80.0,768.5 L81.1,769.5 L82.2,770.6 L83.3,771.6 L84.4,772.6 L85.5,773.6 L86.6,774.6 L87.7,775.7 L88.8,776.7 L89.9,777.7 L91.0,778.7 L92.1,779.8 L93.2,780.8 L94.3,781.8 L95.3,782.9 L96.4,783.9 L97.5,784.9 L98.6,786.0 L99.7,787.0 L100.8,788.1 L101.9,789.1 L103.0,790.1 L104.1,791.2 L105.1,792.2 L106.2,793.3 L107.3,794.3 L108.4,795.3 L109.5,796.4 L110.6,797.4 L111.7,798.4 L112.8,799.5 L113.9,800.5 L115.0,801.5 L116.1,802.5 L117.2,803.6 L118.3,804.6 L119.4,805.6 L120.5,806.6 L121.7,807.6 L122.8,808.6 L123.9,809.6 L125.0,810.6 L126.1,811.6 L127.3,812.6 L128.4,813.6 L129.5,814.6 L130.7,815.5 L131.8,816.5 L133.0,817.4 L134.1,818.4 L135.3,819.3 L136.5,820.3 L137.6,821.2 L138.8,822.2 L140.0,823.1 L141.1,824.0 L142.3,824.9 L143.5,825.8 L144.7,826.7 L145.9,827.6 L147.1,828.5 L148.3,829.3 L149.5,830.2 L150.7,831.1 L151.9,831.9 L153.2,832.8 L154.4,833.6 L155.6,834.4 L156.9,835.2 L158.1,836.1 L159.4,836.9 L160.6,837.7 L161.9,838.5 L163.1,839.2 L164.4,840.0 L165.7,840.8 L167.0,841.5 L168.3,842.3 L169.5,843.0 L170.8,843.7 L172.1,844.5 L173.5,845.2 L174.8,845.9 L176.1,846.6 L177.4,847.3 L178.7,848.0 L180.0,848.7 L181.3,849.5 L182.6,850.2 L183.9,851.0 L185.2,851.7 L186.4,852.5 L187.7,853.3 L189.0,854.1 L190.2,855.0 L191.4,855.9 L192.6,856.8 L193.8,857.7 L195.0,858.7 L196.1,859.6 L197.3,860.6 L198.4,861.6 L199.5,862.7 L200.6,863.7 L201.7,864.7 L202.7,865.8 L203.8,866.8 L204.8,867.9 L205.8,869.0 L206.8,870.1 L207.8,871.2 L208.8,872.3 L209.8,873.4 L210.7,874.5 L211.7,875.6 L212.6,876.8 L213.6,877.9 L214.5,879.1 L215.4,880.2 L216.3,881.4 L217.2,882.6 L218.1,883.7 L219.0,884.9 L219.9,886.1 L220.8,887.3 L221.7,888.5 L222.6,889.7 L223.5,890.9 L224.3,892.1 L225.2,893.3 L226.1,894.5 L227.0,895.8 L227.9,897.0 L228.8,898.2 L229.7,899.5 L230.6,900.7 L231.5,901.9 L232.4,903.2 L233.2,904.4 L234.1,905.7 L235.0,906.9 L235.9,908.2 L236.8,909.4 L237.6,910.7 L238.5,911.9 L239.4,913.2 L240.2,914.4 L241.1,915.7 L241.9,916.9 L242.7,918.2 L243.6,919.4 L244.4,920.7 L245.2,921.9 L246.0,923.2 L246.9,924.4 L247.7,925.7 L248.5,926.9 L249.3,928.1 L250.1,929.4 L251.0,930.6 L251.8,931.8 L252.7,933.0 L253.5,934.2 L254.4,935.4 L255.3,936.6 L256.1,937.7 L257.0,938.9 L257.9,940.1 L258.9,941.2 L259.8,942.3 L260.8,943.5 L261.8,944.6 L262.8,945.7 L263.8,946.7 L264.8,947.8 L265.9,948.8 L267.0,949.9 L268.1,950.9 L269.2,951.9 L270.4,952.9 L271.5,953.9 L272.7,954.8 L273.9,955.8 L275.1,956.7 L276.3,957.6 L277.6,958.5 L278.8,959.4 L280.1,960.3 L281.3,961.2 L282.6,962.0 L283.9,962.8 L285.2,963.7 L286.4,964.5 L287.7,965.2 L289.0,966.0 L290.3,966.8 L291.6,967.5 L292.9,968.3 L294.1,969.0 L295.4,969.8 L296.6,970.6 L297.9,971.3 L299.1,972.1 L300.4,972.9 L301.6,973.7 L302.8,974.6 L304.0,975.4 L305.1,976.3 L306.3,977.2 L307.4,978.1 L308.6,979.0 L309.7,980.0 L310.8,981.0 L311.8,982.0 L312.9,983.1 L313.9,984.1 L315.0,985.2 L316.0,986.3 L317.0,987.4 L318.0,988.5 L319.1,989.7 L320.1,990.8 L321.1,992.0 L322.0,993.1 L323.0,994.3 L324.0,995.4 L325.0,996.6 L326.0,997.7 L327.0,998.9 L328.0,1000.1 L329.0,1001.2 L329.9,1002.4 L330.9,1003.5 L332.0,1004.6 L333.0,1005.8 L334.0,1006.9 L335.0,1008.0 L336.0,1009.1 L337.1,1010.1 L338.2,1011.2 L339.2,1012.2 L340.3,1013.2 L341.4,1014.2 L343.0,1016.3 L343.3,1023.3 L341.7,1025.2 L340.0,1025.2 L338.3,1025.0 L337.0,1024.5 L335.8,1023.8 L334.7,1022.9 L333.6,1021.9 L332.6,1020.7 L331.6,1019.4 L330.7,1018.0 L329.8,1016.5 L328.9,1015.0 L328.0,1013.5 L327.1,1012.0 L326.2,1010.5 L325.3,1009.0 L324.4,1007.6 L323.5,1006.2 L322.5,1004.9 L321.5,1003.7 L320.5,1002.6 L319.5,1001.5 L318.5,1000.5 L317.4,999.5 L316.4,998.6 L315.3,997.6 L314.2,996.7 L313.2,995.8 L312.1,994.8 L311.0,993.8 L309.9,992.9 L308.8,991.9 L307.7,991.0 L306.6,990.0 L305.5,989.1 L304.4,988.2 L303.2,987.3 L302.0,986.4 L300.9,985.5 L299.7,984.7 L298.4,983.9 L297.2,983.1 L296.0,982.3 L294.7,981.5 L293.5,980.7 L292.2,980.0 L291.0,979.2 L289.7,978.4 L288.4,977.6 L287.1,976.9 L285.9,976.1 L284.6,975.3 L283.3,974.5 L282.0,973.6 L280.8,972.8 L279.5,971.9 L278.2,971.1 L277.0,970.2 L275.7,969.3 L274.5,968.4 L273.2,967.4 L272.0,966.5 L270.8,965.5 L269.6,964.6 L268.4,963.6 L267.3,962.6 L266.1,961.6 L265.0,960.6 L263.9,959.5 L262.8,958.5 L261.7,957.4 L260.7,956.4 L259.6,955.3 L258.6,954.2 L257.6,953.1 L256.7,952.0 L255.7,950.9 L254.8,949.8 L253.9,948.6 L253.0,947.5 L252.1,946.3 L251.2,945.2 L250.3,944.0 L249.5,942.8 L248.6,941.6 L247.8,940.4 L246.9,939.2 L246.1,938.0 L245.3,936.7 L244.4,935.5 L243.6,934.3 L242.8,933.0 L242.0,931.8 L241.1,930.5 L240.3,929.2 L239.5,928.0 L238.7,926.7 L237.8,925.4 L237.0,924.1 L236.2,922.8 L235.3,921.5 L234.5,920.2 L233.6,918.9 L232.7,917.6 L231.9,916.3 L231.0,915.0 L230.1,913.8 L229.2,912.6 L228.3,911.4 L227.4,910.2 L226.4,909.1 L225.5,908.0 L224.6,906.8 L223.7,905.7 L222.7,904.5 L221.8,903.3 L221.0,902.1 L220.1,900.8 L219.3,899.4 L218.4,898.0 L217.6,896.6 L216.8,895.2 L216.0,893.8 L215.2,892.4 L214.3,891.1 L213.4,889.8 L212.5,888.6 L211.6,887.4 L210.7,886.3 L209.8,885.1 L208.8,884.1 L207.8,883.0 L206.8,882.0 L205.8,880.9 L204.8,879.9 L203.8,878.9 L202.8,877.9 L201.7,876.9 L200.7,875.9 L199.6,874.9 L198.5,873.9 L197.4,872.9 L196.3,872.0 L195.1,871.0 L194.0,870.1 L192.8,869.1 L191.6,868.2 L190.4,867.3 L189.2,866.5 L188.0,865.6 L186.7,864.8 L185.5,864.0 L184.2,863.2 L182.9,862.5 L181.6,861.8 L180.3,861.0 L179.0,860.3 L177.7,859.6 L176.4,859.0 L175.0,858.3 L173.7,857.6 L172.4,856.9 L171.0,856.3 L169.7,855.6 L168.4,854.9 L167.1,854.2 L165.8,853.5 L164.5,852.8 L163.2,852.1 L161.9,851.4 L160.6,850.6 L159.3,849.9 L158.0,849.1 L156.7,848.4 L155.5,847.6 L154.2,846.8 L152.9,846.0 L151.7,845.2 L150.4,844.4 L149.2,843.6 L148.0,842.7 L146.7,841.9 L145.5,841.0 L144.3,840.2 L143.1,839.3 L141.9,838.4 L140.7,837.5 L139.5,836.6 L138.3,835.7 L137.1,834.8 L135.9,833.9 L134.8,833.0 L133.6,832.0 L132.4,831.1 L131.3,830.2 L130.1,829.2 L128.9,828.2 L127.8,827.3 L126.7,826.3 L125.5,825.3 L124.4,824.3 L123.2,823.3 L122.1,822.3 L121.0,821.3 L119.9,820.2 L118.8,819.2 L117.7,818.2 L116.5,817.1 L115.4,816.1 L114.3,815.0 L113.2,814.0 L112.1,812.9 L111.1,811.9 L110.0,810.8 L108.9,809.7 L107.8,808.7 L106.7,807.6 L105.6,806.5 L104.5,805.4 L103.5,804.3 L102.4,803.3 L101.3,802.2 L100.2,801.1 L99.2,800.0 L98.1,798.9 L97.0,797.8 L95.9,796.7 L94.9,795.6 L93.8,794.5 L92.7,793.4 L91.7,792.3 L90.6,791.2 L89.5,790.1 L88.5,789.0 L87.4,787.9 L86.3,786.8 L85.3,785.7 L84.2,784.6 L83.1,783.5 L82.0,782.5 L81.0,781.4 L79.9,780.3 L78.8,779.2 L77.7,778.1 L76.6,777.1 L75.6,776.0 L74.5,774.9 L73.4,773.9 L72.3,772.8 L71.2,771.8 L70.2,770.7 L69.1,769.7 L68.0,768.6 L67.0,767.5 L65.9,766.4 L64.9,765.2 L63.8,764.1 L62.8,762.9 L61.8,761.8 L60.7,760.6 L59.7,759.6 L58.6,758.6 L57.4,757.8 L56.2,757.1 L55.0,756.6 L54.6,748.8Z" fill="#a5609d"/>
<g stroke-linecap="butt">
<line x1="39.7" y1="612.4" x2="344.3" y2="896.0" stroke="#5a5a5a" stroke-width="1.35"/>
<line x1="344.3" y1="896.0" x2="562.5" y2="185.2" stroke="#5a5a5a" stroke-width="1.35"/>
<line x1="344.3" y1="896.0" x2="343.5" y2="1043.8" stroke="#5a5a5a" stroke-width="1.35"/>
<line x1="46.5" y1="756.2" x2="343.5" y2="1043.8" stroke="#5a5a5a" stroke-width="1.35"/>
<line x1="52.9" y1="759.1" x2="60.3" y2="741.3" stroke="#5a5a5a" stroke-width="1.35"/>
<line x1="79.3" y1="786.0" x2="83.6" y2="774.4" stroke="#5a5a5a" stroke-width="1.35"/>
<line x1="106.5" y1="812.0" x2="110.8" y2="800.3" stroke="#5a5a5a" stroke-width="1.35"/>
<line x1="133.4" y1="838.5" x2="137.9" y2="827.2" stroke="#5a5a5a" stroke-width="1.35"/>
<line x1="161.0" y1="866.0" x2="168.8" y2="845.8" stroke="#5a5a5a" stroke-width="1.35"/>
<line x1="189.5" y1="893.4" x2="194.0" y2="881.0" stroke="#5a5a5a" stroke-width="1.35"/>
<line x1="218.0" y1="921.8" x2="222.7" y2="908.8" stroke="#5a5a5a" stroke-width="1.35"/>
<line x1="247.3" y1="949.3" x2="251.6" y2="936.9" stroke="#5a5a5a" stroke-width="1.35"/>
<line x1="277.2" y1="978.6" x2="284.2" y2="956.8" stroke="#5a5a5a" stroke-width="1.35"/>
<line x1="307.4" y1="1006.9" x2="311.2" y2="995.2" stroke="#5a5a5a" stroke-width="1.35"/>
<line x1="338.0" y1="1036.8" x2="341.6" y2="1025.5" stroke="#5a5a5a" stroke-width="1.35"/>
</g>
<g font-family="Liberation Sans, sans-serif" font-size="23.5" fill="#646464" style="text-rendering:geometricPrecision;filter:grayscale(1)">
<text x="33.5" y="623.1" text-anchor="end">1.0</text>
<text x="36.4" y="688.1" text-anchor="end">0.5</text>
<text x="39.6" y="751.8" text-anchor="end">0.0</text>
<text x="39.7" y="796.0" text-anchor="middle">0</text>
<text x="149.3" y="903.3" text-anchor="middle">2</text>
<text x="266.0" y="1016.4" text-anchor="middle">4</text>
<text x="569.0" y="337.3" text-anchor="middle">4</text>
<text x="524.9" y="490.0" text-anchor="middle">2</text>
<text x="475.4" y="657.4" text-anchor="middle">0</text>
<text x="429.0" y="843.9" text-anchor="middle">−2</text>
<text x="366.1" y="1053.3" text-anchor="middle">−4</text>
</g></svg></body></html>
